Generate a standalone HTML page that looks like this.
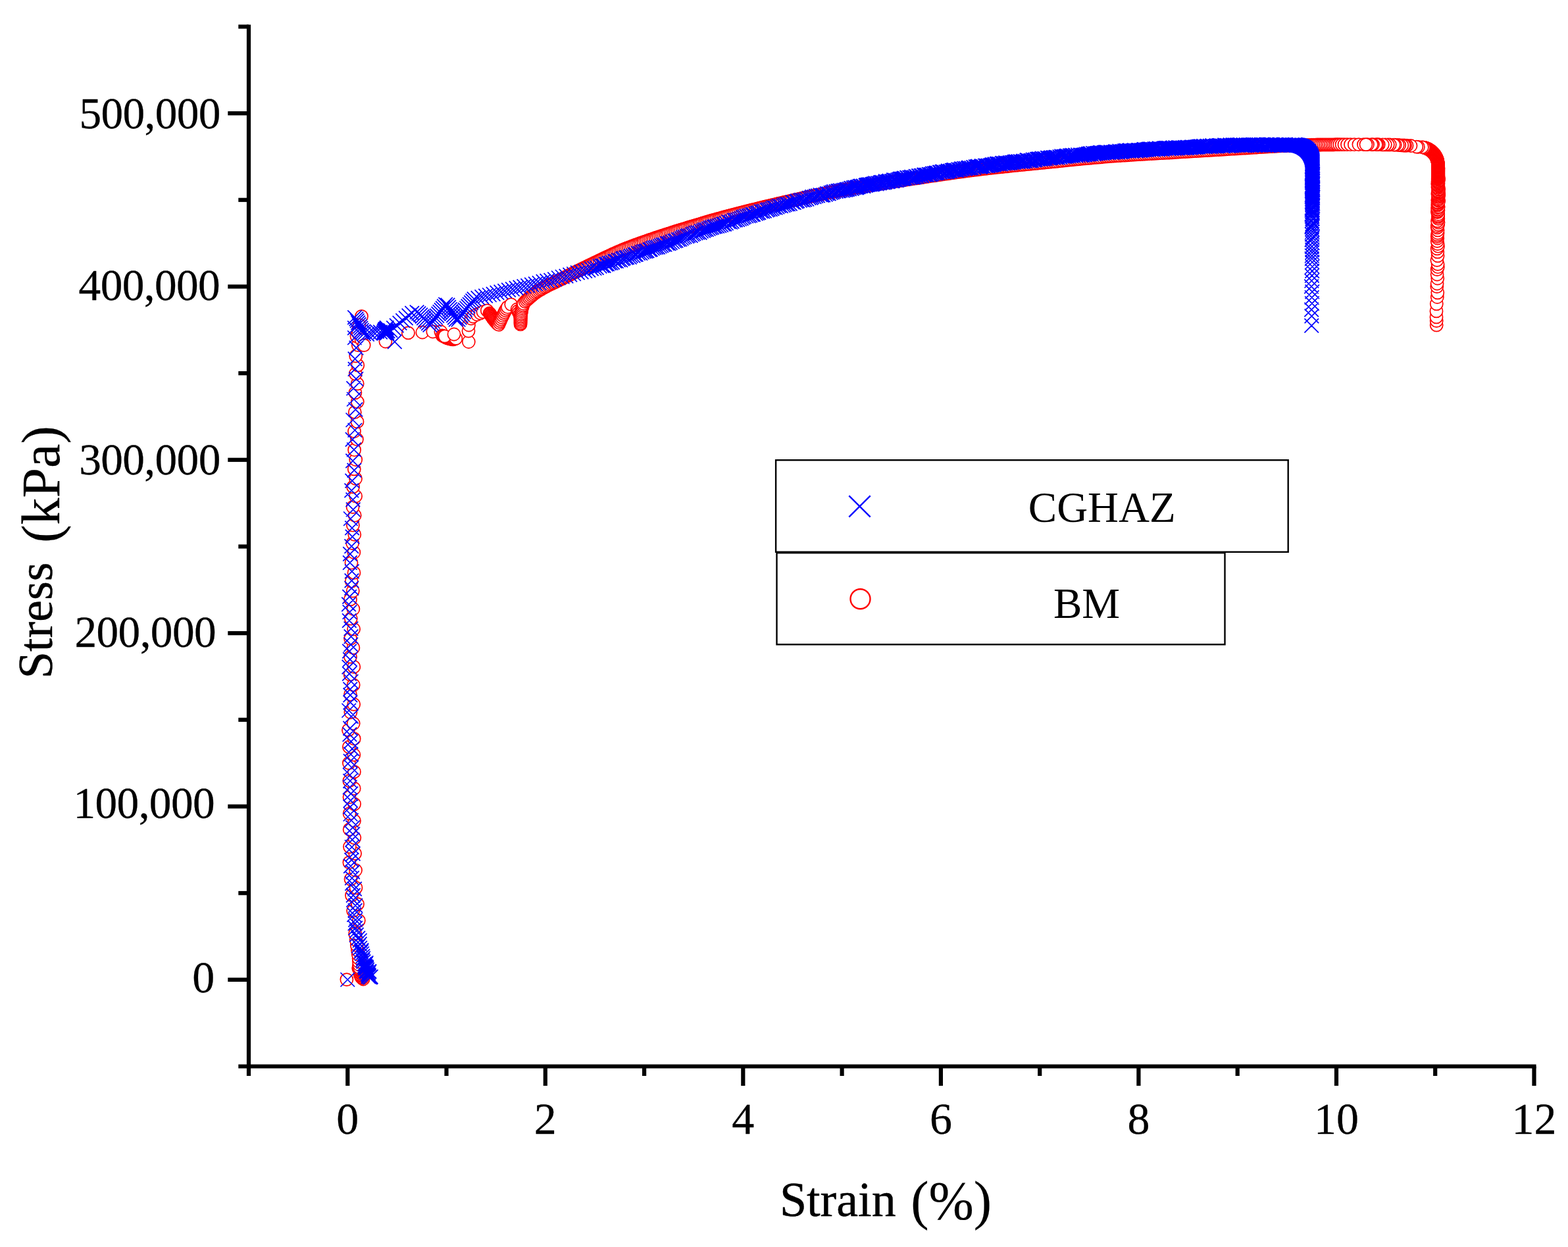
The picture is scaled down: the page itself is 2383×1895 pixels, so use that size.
<!DOCTYPE html>
<html lang="en"><head><meta charset="utf-8"><title>Stress-strain curves</title>
<style>html,body{margin:0;padding:0;background:#fff}body{width:2383px;height:1895px;overflow:hidden}svg{display:block}text{font-family:"Liberation Serif","Times New Roman",Times,serif;fill:#000;stroke:#000;stroke-linejoin:round}.a{stroke-width:.45px}.b{stroke-width:.2px}.c{stroke-width:.3px}.d{stroke:none}</style></head><body>
<svg width="2383" height="1895" viewBox="0 0 2383 1895">
<rect width="2383" height="1895" fill="#fff"/>
<g fill="#fff" stroke="#f00" stroke-width="1.7">
<circle cx="526.9" cy="1488.6" r="9.55"/><circle cx="552" cy="1488" r="9.55"/><circle cx="550.6" cy="1486.6" r="9.55"/><circle cx="549" cy="1485.1" r="9.55"/><circle cx="548.6" cy="1483.7" r="9.55"/><circle cx="549.3" cy="1482.3" r="9.55"/><circle cx="547.1" cy="1480.8" r="9.55"/><circle cx="547.8" cy="1479.2" r="9.55"/><circle cx="547.3" cy="1477.7" r="9.55"/><circle cx="548" cy="1476.1" r="9.55"/><circle cx="547.5" cy="1474.5" r="9.55"/><circle cx="545.7" cy="1472.9" r="9.55"/><circle cx="544.7" cy="1471.3" r="9.55"/><circle cx="545.3" cy="1469.7" r="9.55"/><circle cx="545.6" cy="1468.1" r="9.55"/><circle cx="546" cy="1470" r="9.55"/><circle cx="545.7" cy="1466" r="9.55"/><circle cx="545.4" cy="1461.5" r="9.55"/><circle cx="545.1" cy="1456.4" r="9.55"/><circle cx="544.3" cy="1450.6" r="9.55"/><circle cx="543.4" cy="1444.1" r="9.55"/><circle cx="542.3" cy="1436.7" r="9.55"/><circle cx="541.1" cy="1428.4" r="9.55"/><circle cx="539.7" cy="1418.9" r="9.55"/><circle cx="545.3" cy="1398.9" r="9.55"/><circle cx="536.6" cy="1384.1" r="9.55"/><circle cx="543.5" cy="1373.9" r="9.55"/><circle cx="534.5" cy="1360.7" r="9.55"/><circle cx="541" cy="1349.1" r="9.55"/><circle cx="533" cy="1336.1" r="9.55"/><circle cx="540.5" cy="1322.5" r="9.55"/><circle cx="530.9" cy="1310.7" r="9.55"/><circle cx="539.6" cy="1297.1" r="9.55"/><circle cx="531.5" cy="1286.8" r="9.55"/><circle cx="538.8" cy="1273.3" r="9.55"/><circle cx="531.2" cy="1260.4" r="9.55"/><circle cx="538.5" cy="1247.3" r="9.55"/><circle cx="531.1" cy="1236.4" r="9.55"/><circle cx="538.6" cy="1221.8" r="9.55"/><circle cx="531" cy="1211.3" r="9.55"/><circle cx="538.2" cy="1198.2" r="9.55"/><circle cx="530.9" cy="1186.7" r="9.55"/><circle cx="538.4" cy="1172.9" r="9.55"/><circle cx="530.4" cy="1159.6" r="9.55"/><circle cx="537.9" cy="1147" r="9.55"/><circle cx="530.4" cy="1135.1" r="9.55"/><circle cx="538.2" cy="1122.7" r="9.55"/><circle cx="529.5" cy="1109.4" r="9.55"/><circle cx="537.2" cy="1099.5" r="9.55"/><circle cx="532.9" cy="1082.5" r="9.55"/><circle cx="537.7" cy="1070.3" r="9.55"/><circle cx="532.5" cy="1055.4" r="9.55"/><circle cx="537.2" cy="1040.9" r="9.55"/><circle cx="532.1" cy="1025.1" r="9.55"/><circle cx="537.8" cy="1013.3" r="9.55"/><circle cx="532.5" cy="998.1" r="9.55"/><circle cx="536.9" cy="984.4" r="9.55"/><circle cx="532.6" cy="970.6" r="9.55"/><circle cx="537.6" cy="956" r="9.55"/><circle cx="533.3" cy="940" r="9.55"/><circle cx="536.9" cy="925.5" r="9.55"/><circle cx="532.5" cy="910.9" r="9.55"/><circle cx="536.3" cy="898" r="9.55"/><circle cx="534.3" cy="883.4" r="9.55"/><circle cx="538" cy="870.4" r="9.55"/><circle cx="534" cy="855.2" r="9.55"/><circle cx="537.9" cy="839.5" r="9.55"/><circle cx="535.7" cy="825.6" r="9.55"/><circle cx="538.8" cy="812.4" r="9.55"/><circle cx="536.4" cy="798.2" r="9.55"/><circle cx="539.2" cy="783.2" r="9.55"/><circle cx="536.1" cy="770.5" r="9.55"/><circle cx="540.6" cy="754" r="9.55"/><circle cx="536.6" cy="739.8" r="9.55"/><circle cx="540.5" cy="727.4" r="9.55"/><circle cx="538.3" cy="712.9" r="9.55"/><circle cx="540.7" cy="698.5" r="9.55"/><circle cx="538.6" cy="683.7" r="9.55"/><circle cx="542.4" cy="667.7" r="9.55"/><circle cx="538.5" cy="655.5" r="9.55"/><circle cx="543" cy="640.9" r="9.55"/><circle cx="539.3" cy="626.4" r="9.55"/><circle cx="543.3" cy="610.6" r="9.55"/><circle cx="539.9" cy="596.8" r="9.55"/><circle cx="543.2" cy="583.1" r="9.55"/><circle cx="540.3" cy="568.1" r="9.55"/><circle cx="543.8" cy="555.1" r="9.55"/><circle cx="540.7" cy="541" r="9.55"/><circle cx="544.3" cy="524.6" r="9.55"/><circle cx="542" cy="510.9" r="9.55"/><circle cx="545.2" cy="498.5" r="9.55"/><circle cx="549.5" cy="480.7" r="9.55"/><circle cx="546" cy="494" r="9.55"/><circle cx="544.5" cy="507" r="9.55"/><circle cx="549" cy="516" r="9.55"/><circle cx="553.2" cy="524.6" r="9.55"/><circle cx="585.9" cy="519" r="9.55"/><circle cx="620.4" cy="505.9" r="9.55"/><circle cx="641.9" cy="505" r="9.55"/><circle cx="657.8" cy="504" r="9.55"/><circle cx="669.9" cy="504" r="9.55"/><circle cx="672" cy="510" r="9.55"/><circle cx="673.4" cy="510.7" r="9.55"/><circle cx="674.9" cy="511.4" r="9.55"/><circle cx="676.3" cy="512.1" r="9.55"/><circle cx="677.7" cy="512.9" r="9.55"/><circle cx="679.2" cy="513.6" r="9.55"/><circle cx="680.6" cy="514.2" r="9.55"/><circle cx="682.2" cy="514.5" r="9.55"/><circle cx="683.7" cy="514.9" r="9.55"/><circle cx="685.3" cy="515.3" r="9.55"/><circle cx="686.8" cy="515.7" r="9.55"/><circle cx="688.4" cy="515.9" r="9.55"/><circle cx="689.9" cy="515.4" r="9.55"/><circle cx="691.4" cy="514.9" r="9.55"/><circle cx="692.9" cy="514.4" r="9.55"/><circle cx="676" cy="511" r="9.55"/><circle cx="690" cy="508" r="9.55"/><circle cx="712.3" cy="519.5" r="9.55"/><circle cx="712" cy="503" r="9.55"/><circle cx="712.5" cy="494" r="9.55"/><circle cx="716" cy="484" r="9.55"/><circle cx="719" cy="481" r="9.55"/><circle cx="725" cy="478" r="9.55"/><circle cx="730" cy="476" r="9.55"/><circle cx="734" cy="474" r="9.55"/><circle cx="740.3" cy="471.9" r="9.55"/><circle cx="744" cy="476" r="9.55"/><circle cx="744.8" cy="477.2" r="9.55"/><circle cx="745.7" cy="478.5" r="9.55"/><circle cx="746.5" cy="479.7" r="9.55"/><circle cx="747.3" cy="481" r="9.55"/><circle cx="748.2" cy="482.2" r="9.55"/><circle cx="749" cy="483.5" r="9.55"/><circle cx="749.8" cy="484.7" r="9.55"/><circle cx="750.8" cy="485.9" r="9.55"/><circle cx="751.7" cy="487" r="9.55"/><circle cx="752.7" cy="488.2" r="9.55"/><circle cx="753.7" cy="489.3" r="9.55"/><circle cx="754.7" cy="490.5" r="9.55"/><circle cx="755.7" cy="491.6" r="9.55"/><circle cx="756.8" cy="492.6" r="9.55"/><circle cx="758" cy="493.4" r="9.55"/><circle cx="759.2" cy="490.6" r="9.55"/><circle cx="760.3" cy="487.9" r="9.55"/><circle cx="761.5" cy="485.1" r="9.55"/><circle cx="762.8" cy="482.4" r="9.55"/><circle cx="764.1" cy="479.7" r="9.55"/><circle cx="765.5" cy="477" r="9.55"/><circle cx="766.8" cy="474.4" r="9.55"/><circle cx="768.2" cy="471.7" r="9.55"/><circle cx="769.9" cy="469.2" r="9.55"/><circle cx="771.5" cy="466.7" r="9.55"/><circle cx="776.7" cy="462.6" r="9.55"/><circle cx="786" cy="470" r="9.55"/><circle cx="787.3" cy="472.7" r="9.55"/><circle cx="788.6" cy="475.4" r="9.55"/><circle cx="789.8" cy="478.1" r="9.55"/><circle cx="790.7" cy="481" r="9.55"/><circle cx="790.8" cy="483.9" r="9.55"/><circle cx="790.9" cy="486.9" r="9.55"/><circle cx="790.9" cy="489.9" r="9.55"/><circle cx="791" cy="492.9" r="9.55"/><circle cx="791.1" cy="490.9" r="9.55"/><circle cx="791.2" cy="488.4" r="9.55"/><circle cx="791.3" cy="485.9" r="9.55"/><circle cx="791.4" cy="483.4" r="9.55"/><circle cx="791.5" cy="480.9" r="9.55"/><circle cx="791.7" cy="478.4" r="9.55"/><circle cx="792.1" cy="476" r="9.55"/><circle cx="792.5" cy="473.5" r="9.55"/><circle cx="792.8" cy="471" r="9.55"/><circle cx="793.4" cy="468.6" r="9.55"/><circle cx="794.1" cy="466.2" r="9.55"/><circle cx="794.9" cy="463.8" r="9.55"/><circle cx="795.6" cy="461.4" r="9.55"/><circle cx="798.1" cy="458.3" r="9.55"/><circle cx="800.1" cy="456.5" r="9.55"/><circle cx="802.1" cy="454.7" r="9.55"/><circle cx="804.2" cy="452.9" r="9.55"/><circle cx="806.2" cy="451.2" r="9.55"/><circle cx="808.3" cy="449.4" r="9.55"/><circle cx="810.3" cy="447.7" r="9.55"/><circle cx="812.5" cy="446" r="9.55"/><circle cx="814.6" cy="444.4" r="9.55"/><circle cx="816.9" cy="442.9" r="9.55"/><circle cx="819.2" cy="441.5" r="9.55"/><circle cx="821.5" cy="440.1" r="9.55"/><circle cx="823.8" cy="438.8" r="9.55"/><circle cx="826.2" cy="437.4" r="9.55"/><circle cx="828.6" cy="436.2" r="9.55"/><circle cx="831" cy="434.9" r="9.55"/><circle cx="833.4" cy="433.7" r="9.55"/><circle cx="835.8" cy="432.5" r="9.55"/><circle cx="838.2" cy="431.4" r="9.55"/><circle cx="840.7" cy="430.2" r="9.55"/><circle cx="843.1" cy="429" r="9.55"/><circle cx="845.5" cy="427.9" r="9.55"/><circle cx="848" cy="426.7" r="9.55"/><circle cx="850.4" cy="425.5" r="9.55"/><circle cx="852.8" cy="424.3" r="9.55"/><circle cx="855.2" cy="423.1" r="9.55"/><circle cx="857.6" cy="421.9" r="9.55"/><circle cx="860" cy="420.6" r="9.55"/><circle cx="862.5" cy="419.4" r="9.55"/><circle cx="864.9" cy="418.2" r="9.55"/><circle cx="867.3" cy="417" r="9.55"/><circle cx="869.7" cy="415.8" r="9.55"/><circle cx="872.1" cy="414.6" r="9.55"/><circle cx="874.5" cy="413.4" r="9.55"/><circle cx="877" cy="412.2" r="9.55"/><circle cx="879.4" cy="411" r="9.55"/><circle cx="881.8" cy="409.8" r="9.55"/><circle cx="884.2" cy="408.6" r="9.55"/><circle cx="886.6" cy="407.4" r="9.55"/><circle cx="889.1" cy="406.3" r="9.55"/><circle cx="891.5" cy="405.1" r="9.55"/><circle cx="893.9" cy="403.9" r="9.55"/><circle cx="896.4" cy="402.7" r="9.55"/><circle cx="898.8" cy="401.6" r="9.55"/><circle cx="901.2" cy="400.4" r="9.55"/><circle cx="903.7" cy="399.2" r="9.55"/><circle cx="906.1" cy="398.1" r="9.55"/><circle cx="908.5" cy="396.9" r="9.55"/><circle cx="911" cy="395.7" r="9.55"/><circle cx="913.4" cy="394.6" r="9.55"/><circle cx="915.8" cy="393.4" r="9.55"/><circle cx="918.3" cy="392.2" r="9.55"/><circle cx="920.7" cy="391.1" r="9.55"/><circle cx="923.2" cy="389.9" r="9.55"/><circle cx="925.6" cy="388.8" r="9.55"/><circle cx="928.1" cy="387.6" r="9.55"/><circle cx="930.5" cy="386.5" r="9.55"/><circle cx="933" cy="385.4" r="9.55"/><circle cx="935.4" cy="384.3" r="9.55"/><circle cx="937.9" cy="383.2" r="9.55"/><circle cx="940.4" cy="382.1" r="9.55"/><circle cx="942.9" cy="381.1" r="9.55"/><circle cx="945.4" cy="380" r="9.55"/><circle cx="947.9" cy="379" r="9.55"/><circle cx="950.4" cy="378" r="9.55"/><circle cx="952.9" cy="377" r="9.55"/><circle cx="955.4" cy="376.1" r="9.55"/><circle cx="957.9" cy="375.1" r="9.55"/><circle cx="960.4" cy="374.1" r="9.55"/><circle cx="963" cy="373.2" r="9.55"/><circle cx="965.5" cy="372.2" r="9.55"/><circle cx="968" cy="371.3" r="9.55"/><circle cx="970.6" cy="370.4" r="9.55"/><circle cx="973.1" cy="369.5" r="9.55"/><circle cx="975.7" cy="368.6" r="9.55"/><circle cx="978.2" cy="367.7" r="9.55"/><circle cx="980.8" cy="366.8" r="9.55"/><circle cx="983.3" cy="365.9" r="9.55"/><circle cx="985.9" cy="365" r="9.55"/><circle cx="988.4" cy="364.1" r="9.55"/><circle cx="991" cy="363.3" r="9.55"/><circle cx="993.5" cy="362.4" r="9.55"/><circle cx="996.1" cy="361.5" r="9.55"/><circle cx="998.6" cy="360.7" r="9.55"/><circle cx="1001.2" cy="359.8" r="9.55"/><circle cx="1003.8" cy="358.9" r="9.55"/><circle cx="1006.3" cy="358.1" r="9.55"/><circle cx="1008.9" cy="357.3" r="9.55"/><circle cx="1011.5" cy="356.4" r="9.55"/><circle cx="1014" cy="355.6" r="9.55"/><circle cx="1016.6" cy="354.8" r="9.55"/><circle cx="1019.2" cy="354" r="9.55"/><circle cx="1021.7" cy="353.2" r="9.55"/><circle cx="1024.3" cy="352.3" r="9.55"/><circle cx="1026.9" cy="351.5" r="9.55"/><circle cx="1029.5" cy="350.7" r="9.55"/><circle cx="1032.1" cy="349.9" r="9.55"/><circle cx="1034.6" cy="349.2" r="9.55"/><circle cx="1037.2" cy="348.4" r="9.55"/><circle cx="1039.8" cy="347.6" r="9.55"/><circle cx="1042.4" cy="346.8" r="9.55"/><circle cx="1045" cy="346" r="9.55"/><circle cx="1047.6" cy="345.2" r="9.55"/><circle cx="1050.1" cy="344.5" r="9.55"/><circle cx="1052.7" cy="343.7" r="9.55"/><circle cx="1055.3" cy="342.9" r="9.55"/><circle cx="1057.9" cy="342.1" r="9.55"/><circle cx="1060.5" cy="341.3" r="9.55"/><circle cx="1063.1" cy="340.6" r="9.55"/><circle cx="1065.7" cy="339.8" r="9.55"/><circle cx="1068.2" cy="339" r="9.55"/><circle cx="1070.8" cy="338.3" r="9.55"/><circle cx="1073.4" cy="337.5" r="9.55"/><circle cx="1076" cy="336.7" r="9.55"/><circle cx="1078.6" cy="336" r="9.55"/><circle cx="1081.2" cy="335.2" r="9.55"/><circle cx="1083.8" cy="334.5" r="9.55"/><circle cx="1086.4" cy="333.8" r="9.55"/><circle cx="1089" cy="333" r="9.55"/><circle cx="1091.6" cy="332.3" r="9.55"/><circle cx="1094.2" cy="331.6" r="9.55"/><circle cx="1096.8" cy="330.9" r="9.55"/><circle cx="1099.4" cy="330.2" r="9.55"/><circle cx="1102" cy="329.5" r="9.55"/><circle cx="1104.9" cy="328.7" r="9.55"/><circle cx="1107.8" cy="327.9" r="9.55"/><circle cx="1110.7" cy="327.2" r="9.55"/><circle cx="1113.6" cy="326.4" r="9.55"/><circle cx="1116.5" cy="325.6" r="9.55"/><circle cx="1119.4" cy="324.9" r="9.55"/><circle cx="1122.3" cy="324.1" r="9.55"/><circle cx="1125.2" cy="323.4" r="9.55"/><circle cx="1128.1" cy="322.6" r="9.55"/><circle cx="1131" cy="321.9" r="9.55"/><circle cx="1134" cy="321.2" r="9.55"/><circle cx="1136.9" cy="320.4" r="9.55"/><circle cx="1139.8" cy="319.7" r="9.55"/><circle cx="1142.7" cy="319" r="9.55"/><circle cx="1145.6" cy="318.3" r="9.55"/><circle cx="1148.5" cy="317.6" r="9.55"/><circle cx="1151.4" cy="316.8" r="9.55"/><circle cx="1154.3" cy="316.1" r="9.55"/><circle cx="1157.3" cy="315.4" r="9.55"/><circle cx="1160.2" cy="314.7" r="9.55"/><circle cx="1163.1" cy="314" r="9.55"/><circle cx="1166" cy="313.3" r="9.55"/><circle cx="1168.9" cy="312.6" r="9.55"/><circle cx="1171.9" cy="312" r="9.55"/><circle cx="1174.8" cy="311.3" r="9.55"/><circle cx="1177.7" cy="310.6" r="9.55"/><circle cx="1180.6" cy="309.9" r="9.55"/><circle cx="1183.5" cy="309.2" r="9.55"/><circle cx="1186.5" cy="308.6" r="9.55"/><circle cx="1189.4" cy="307.9" r="9.55"/><circle cx="1192.3" cy="307.2" r="9.55"/><circle cx="1195.2" cy="306.6" r="9.55"/><circle cx="1198.2" cy="305.9" r="9.55"/><circle cx="1201.1" cy="305.3" r="9.55"/><circle cx="1204" cy="304.6" r="9.55"/><circle cx="1207" cy="304" r="9.55"/><circle cx="1209.9" cy="303.3" r="9.55"/><circle cx="1212.8" cy="302.7" r="9.55"/><circle cx="1215.7" cy="302" r="9.55"/><circle cx="1218.7" cy="301.4" r="9.55"/><circle cx="1221.6" cy="300.7" r="9.55"/><circle cx="1224.5" cy="300.1" r="9.55"/><circle cx="1227.5" cy="299.5" r="9.55"/><circle cx="1230.4" cy="298.8" r="9.55"/><circle cx="1233.3" cy="298.2" r="9.55"/><circle cx="1236.3" cy="297.6" r="9.55"/><circle cx="1239.2" cy="297" r="9.55"/><circle cx="1242.1" cy="296.3" r="9.55"/><circle cx="1245.1" cy="295.7" r="9.55"/><circle cx="1248" cy="295.1" r="9.55"/><circle cx="1251" cy="294.5" r="9.55"/><circle cx="1253.9" cy="293.9" r="9.55"/><circle cx="1256.8" cy="293.3" r="9.55"/><circle cx="1259.8" cy="292.7" r="9.55"/><circle cx="1262.7" cy="292.1" r="9.55"/><circle cx="1265.7" cy="291.6" r="9.55"/><circle cx="1268.6" cy="291" r="9.55"/><circle cx="1271.5" cy="290.4" r="9.55"/><circle cx="1274.5" cy="289.9" r="9.55"/><circle cx="1277.4" cy="289.3" r="9.55"/><circle cx="1280.4" cy="288.8" r="9.55"/><circle cx="1283.3" cy="288.2" r="9.55"/><circle cx="1286.3" cy="287.7" r="9.55"/><circle cx="1289.2" cy="287.1" r="9.55"/><circle cx="1292.2" cy="286.6" r="9.55"/><circle cx="1295.2" cy="286.1" r="9.55"/><circle cx="1298.1" cy="285.6" r="9.55"/><circle cx="1301.1" cy="285.1" r="9.55"/><circle cx="1304" cy="284.6" r="9.55"/><circle cx="1307" cy="284.1" r="9.55"/><circle cx="1309.9" cy="283.6" r="9.55"/><circle cx="1312.9" cy="283.1" r="9.55"/><circle cx="1315.9" cy="282.6" r="9.55"/><circle cx="1318.8" cy="282.1" r="9.55"/><circle cx="1321.8" cy="281.6" r="9.55"/><circle cx="1324.7" cy="281.1" r="9.55"/><circle cx="1327.7" cy="280.7" r="9.55"/><circle cx="1330.7" cy="280.2" r="9.55"/><circle cx="1333.6" cy="279.7" r="9.55"/><circle cx="1336.6" cy="279.3" r="9.55"/><circle cx="1339.6" cy="278.8" r="9.55"/><circle cx="1342.5" cy="278.3" r="9.55"/><circle cx="1345.5" cy="277.9" r="9.55"/><circle cx="1348.5" cy="277.4" r="9.55"/><circle cx="1351.4" cy="277" r="9.55"/><circle cx="1354.4" cy="276.5" r="9.55"/><circle cx="1357.4" cy="276.1" r="9.55"/><circle cx="1360.3" cy="275.6" r="9.55"/><circle cx="1363.3" cy="275.2" r="9.55"/><circle cx="1366.3" cy="274.7" r="9.55"/><circle cx="1369.2" cy="274.3" r="9.55"/><circle cx="1372.2" cy="273.9" r="9.55"/><circle cx="1375.2" cy="273.4" r="9.55"/><circle cx="1378.1" cy="273" r="9.55"/><circle cx="1381.1" cy="272.5" r="9.55"/><circle cx="1384.1" cy="272.1" r="9.55"/><circle cx="1387" cy="271.6" r="9.55"/><circle cx="1390" cy="271.2" r="9.55"/><circle cx="1393" cy="270.8" r="9.55"/><circle cx="1395.9" cy="270.3" r="9.55"/><circle cx="1398.9" cy="269.9" r="9.55"/><circle cx="1401.9" cy="269.4" r="9.55"/><circle cx="1404.8" cy="269" r="9.55"/><circle cx="1407.8" cy="268.6" r="9.55"/><circle cx="1410.8" cy="268.1" r="9.55"/><circle cx="1413.7" cy="267.7" r="9.55"/><circle cx="1416.7" cy="267.2" r="9.55"/><circle cx="1419.7" cy="266.8" r="9.55"/><circle cx="1422.6" cy="266.4" r="9.55"/><circle cx="1425.6" cy="265.9" r="9.55"/><circle cx="1428.6" cy="265.5" r="9.55"/><circle cx="1431.5" cy="265.1" r="9.55"/><circle cx="1434.5" cy="264.6" r="9.55"/><circle cx="1437.5" cy="264.2" r="9.55"/><circle cx="1440.4" cy="263.8" r="9.55"/><circle cx="1443.4" cy="263.3" r="9.55"/><circle cx="1446.4" cy="262.9" r="9.55"/><circle cx="1449.4" cy="262.5" r="9.55"/><circle cx="1452.3" cy="262.1" r="9.55"/><circle cx="1455.3" cy="261.7" r="9.55"/><circle cx="1458.3" cy="261.3" r="9.55"/><circle cx="1461.2" cy="260.9" r="9.55"/><circle cx="1464.2" cy="260.5" r="9.55"/><circle cx="1467.2" cy="260.1" r="9.55"/><circle cx="1470.2" cy="259.7" r="9.55"/><circle cx="1473.1" cy="259.3" r="9.55"/><circle cx="1476.1" cy="258.9" r="9.55"/><circle cx="1479.1" cy="258.5" r="9.55"/><circle cx="1482.1" cy="258.2" r="9.55"/><circle cx="1485" cy="257.8" r="9.55"/><circle cx="1488" cy="257.4" r="9.55"/><circle cx="1491" cy="257.1" r="9.55"/><circle cx="1494" cy="256.7" r="9.55"/><circle cx="1497" cy="256.4" r="9.55"/><circle cx="1499.9" cy="256" r="9.55"/><circle cx="1502.9" cy="255.7" r="9.55"/><circle cx="1506.3" cy="255.3" r="9.55"/><circle cx="1509.7" cy="254.9" r="9.55"/><circle cx="1513.1" cy="254.6" r="9.55"/><circle cx="1516.4" cy="254.2" r="9.55"/><circle cx="1519.8" cy="253.8" r="9.55"/><circle cx="1523.2" cy="253.5" r="9.55"/><circle cx="1526.6" cy="253.1" r="9.55"/><circle cx="1530" cy="252.8" r="9.55"/><circle cx="1533.3" cy="252.4" r="9.55"/><circle cx="1536.7" cy="252.1" r="9.55"/><circle cx="1540.1" cy="251.7" r="9.55"/><circle cx="1543.5" cy="251.4" r="9.55"/><circle cx="1546.9" cy="251" r="9.55"/><circle cx="1550.3" cy="250.7" r="9.55"/><circle cx="1553.6" cy="250.3" r="9.55"/><circle cx="1557" cy="250" r="9.55"/><circle cx="1560.4" cy="249.7" r="9.55"/><circle cx="1563.8" cy="249.3" r="9.55"/><circle cx="1567.2" cy="249" r="9.55"/><circle cx="1570.6" cy="248.7" r="9.55"/><circle cx="1573.9" cy="248.3" r="9.55"/><circle cx="1577.3" cy="248" r="9.55"/><circle cx="1580.7" cy="247.7" r="9.55"/><circle cx="1584.1" cy="247.3" r="9.55"/><circle cx="1587.5" cy="247" r="9.55"/><circle cx="1590.9" cy="246.7" r="9.55"/><circle cx="1594.2" cy="246.3" r="9.55"/><circle cx="1597.6" cy="246" r="9.55"/><circle cx="1601" cy="245.6" r="9.55"/><circle cx="1604.4" cy="245.3" r="9.55"/><circle cx="1607.8" cy="245" r="9.55"/><circle cx="1611.2" cy="244.6" r="9.55"/><circle cx="1614.5" cy="244.3" r="9.55"/><circle cx="1617.9" cy="243.9" r="9.55"/><circle cx="1621.3" cy="243.6" r="9.55"/><circle cx="1624.7" cy="243.2" r="9.55"/><circle cx="1628.1" cy="242.9" r="9.55"/><circle cx="1631.5" cy="242.6" r="9.55"/><circle cx="1634.8" cy="242.2" r="9.55"/><circle cx="1638.2" cy="241.9" r="9.55"/><circle cx="1641.6" cy="241.6" r="9.55"/><circle cx="1645" cy="241.2" r="9.55"/><circle cx="1648.4" cy="240.9" r="9.55"/><circle cx="1651.8" cy="240.6" r="9.55"/><circle cx="1655.1" cy="240.3" r="9.55"/><circle cx="1658.5" cy="240" r="9.55"/><circle cx="1661.9" cy="239.7" r="9.55"/><circle cx="1665.3" cy="239.4" r="9.55"/><circle cx="1668.7" cy="239.1" r="9.55"/><circle cx="1672.1" cy="238.8" r="9.55"/><circle cx="1675.5" cy="238.5" r="9.55"/><circle cx="1678.9" cy="238.2" r="9.55"/><circle cx="1682.2" cy="237.9" r="9.55"/><circle cx="1685.6" cy="237.7" r="9.55"/><circle cx="1689" cy="237.4" r="9.55"/><circle cx="1692.4" cy="237.2" r="9.55"/><circle cx="1695.8" cy="236.9" r="9.55"/><circle cx="1699.2" cy="236.7" r="9.55"/><circle cx="1702.6" cy="236.5" r="9.55"/><circle cx="1706" cy="236.2" r="9.55"/><circle cx="1709.4" cy="236" r="9.55"/><circle cx="1712.8" cy="235.8" r="9.55"/><circle cx="1716.2" cy="235.6" r="9.55"/><circle cx="1719.6" cy="235.4" r="9.55"/><circle cx="1722.9" cy="235.1" r="9.55"/><circle cx="1726.3" cy="234.9" r="9.55"/><circle cx="1729.7" cy="234.7" r="9.55"/><circle cx="1733.1" cy="234.5" r="9.55"/><circle cx="1736.5" cy="234.3" r="9.55"/><circle cx="1739.9" cy="234.1" r="9.55"/><circle cx="1743.3" cy="233.9" r="9.55"/><circle cx="1746.7" cy="233.7" r="9.55"/><circle cx="1750.1" cy="233.5" r="9.55"/><circle cx="1753.5" cy="233.3" r="9.55"/><circle cx="1756.9" cy="233.1" r="9.55"/><circle cx="1760.3" cy="232.9" r="9.55"/><circle cx="1763.7" cy="232.7" r="9.55"/><circle cx="1767.1" cy="232.5" r="9.55"/><circle cx="1770.5" cy="232.4" r="9.55"/><circle cx="1773.9" cy="232.2" r="9.55"/><circle cx="1777.3" cy="232" r="9.55"/><circle cx="1780.6" cy="231.8" r="9.55"/><circle cx="1784" cy="231.6" r="9.55"/><circle cx="1787.4" cy="231.4" r="9.55"/><circle cx="1790.8" cy="231.2" r="9.55"/><circle cx="1794.2" cy="230.9" r="9.55"/><circle cx="1797.6" cy="230.7" r="9.55"/><circle cx="1801" cy="230.5" r="9.55"/><circle cx="1804.4" cy="230.3" r="9.55"/><circle cx="1807.8" cy="230.1" r="9.55"/><circle cx="1811.2" cy="229.9" r="9.55"/><circle cx="1814.6" cy="229.7" r="9.55"/><circle cx="1818" cy="229.5" r="9.55"/><circle cx="1821.4" cy="229.3" r="9.55"/><circle cx="1824.8" cy="229.1" r="9.55"/><circle cx="1828.2" cy="228.9" r="9.55"/><circle cx="1831.6" cy="228.7" r="9.55"/><circle cx="1834.9" cy="228.5" r="9.55"/><circle cx="1838.3" cy="228.3" r="9.55"/><circle cx="1841.7" cy="228.1" r="9.55"/><circle cx="1845.1" cy="227.9" r="9.55"/><circle cx="1848.5" cy="227.7" r="9.55"/><circle cx="1851.9" cy="227.5" r="9.55"/><circle cx="1855.3" cy="227.3" r="9.55"/><circle cx="1858.7" cy="227.1" r="9.55"/><circle cx="1862.1" cy="226.9" r="9.55"/><circle cx="1865.5" cy="226.7" r="9.55"/><circle cx="1868.9" cy="226.4" r="9.55"/><circle cx="1872.3" cy="226.2" r="9.55"/><circle cx="1875.7" cy="226" r="9.55"/><circle cx="1879.1" cy="225.8" r="9.55"/><circle cx="1882.5" cy="225.6" r="9.55"/><circle cx="1885.9" cy="225.4" r="9.55"/><circle cx="1889.3" cy="225.2" r="9.55"/><circle cx="1892.6" cy="225" r="9.55"/><circle cx="1896" cy="224.8" r="9.55"/><circle cx="1899.4" cy="224.6" r="9.55"/><circle cx="1902.8" cy="224.4" r="9.55"/><circle cx="1906.2" cy="224.2" r="9.55"/><circle cx="1909.6" cy="224" r="9.55"/><circle cx="1913" cy="223.7" r="9.55"/><circle cx="1916.4" cy="223.5" r="9.55"/><circle cx="1919.8" cy="223.3" r="9.55"/><circle cx="1923.2" cy="223.1" r="9.55"/><circle cx="1926.6" cy="222.9" r="9.55"/><circle cx="1930" cy="222.7" r="9.55"/><circle cx="1933.4" cy="222.5" r="9.55"/><circle cx="1936.8" cy="222.3" r="9.55"/><circle cx="1940.2" cy="222.1" r="9.55"/><circle cx="1943.5" cy="221.9" r="9.55"/><circle cx="1946.9" cy="221.7" r="9.55"/><circle cx="1950.3" cy="221.6" r="9.55"/><circle cx="1953.7" cy="221.4" r="9.55"/><circle cx="1957.1" cy="221.3" r="9.55"/><circle cx="1960.5" cy="221.2" r="9.55"/><circle cx="1963.9" cy="221.1" r="9.55"/><circle cx="1967.3" cy="221" r="9.55"/><circle cx="1970.7" cy="220.9" r="9.55"/><circle cx="1974.1" cy="220.7" r="9.55"/><circle cx="1977.5" cy="220.6" r="9.55"/><circle cx="1980.9" cy="220.5" r="9.55"/><circle cx="1984.3" cy="220.5" r="9.55"/><circle cx="1987.7" cy="220.4" r="9.55"/><circle cx="1991.1" cy="220.3" r="9.55"/><circle cx="1993.7" cy="220.2" r="9.55"/><circle cx="1996.3" cy="220.2" r="9.55"/><circle cx="1998.9" cy="220.1" r="9.55"/><circle cx="2001.5" cy="220" r="9.55"/><circle cx="2004.1" cy="220" r="9.55"/><circle cx="2006.7" cy="220" r="9.55"/><circle cx="2009.3" cy="219.9" r="9.55"/><circle cx="2011.9" cy="219.9" r="9.55"/><circle cx="2014.5" cy="219.8" r="9.55"/><circle cx="2017.1" cy="219.8" r="9.55"/><circle cx="2019.7" cy="219.8" r="9.55"/><circle cx="2022.3" cy="219.8" r="9.55"/><circle cx="2024.9" cy="219.8" r="9.55"/><circle cx="2027.5" cy="219.8" r="9.55"/><circle cx="2030.1" cy="219.7" r="9.55"/><circle cx="2032.7" cy="219.7" r="9.55"/><circle cx="2035.7" cy="219.7" r="9.55"/><circle cx="2039.1" cy="219.7" r="9.55"/><circle cx="2043" cy="219.7" r="9.55"/><circle cx="2047.5" cy="219.7" r="9.55"/><circle cx="2052.5" cy="219.7" r="9.55"/><circle cx="2058.3" cy="219.7" r="9.55"/><circle cx="2064.9" cy="219.6" r="9.55"/><circle cx="2072.4" cy="219.6" r="9.55"/>
<circle cx="2183.2" cy="494.1" r="9.55"/><circle cx="2183.2" cy="487.6" r="9.55"/><circle cx="2183" cy="481.9" r="9.55"/><circle cx="2183" cy="472.9" r="9.55"/><circle cx="2183.3" cy="461.8" r="9.55"/><circle cx="2184.3" cy="451.5" r="9.55"/><circle cx="2184.8" cy="444.8" r="9.55"/><circle cx="2183.8" cy="435.6" r="9.55"/><circle cx="2184.1" cy="431" r="9.55"/><circle cx="2184.8" cy="423" r="9.55"/><circle cx="2184.1" cy="417" r="9.55"/><circle cx="2184.1" cy="409.6" r="9.55"/><circle cx="2185.3" cy="405.7" r="9.55"/><circle cx="2185.1" cy="401.3" r="9.55"/><circle cx="2183.9" cy="395.3" r="9.55"/><circle cx="2185.1" cy="388.8" r="9.55"/><circle cx="2184.8" cy="382.9" r="9.55"/><circle cx="2184.1" cy="377.8" r="9.55"/><circle cx="2185.5" cy="374.2" r="9.55"/><circle cx="2185" cy="370.6" r="9.55"/><circle cx="2184.2" cy="366.4" r="9.55"/><circle cx="2184.8" cy="362" r="9.55"/><circle cx="2184.3" cy="359.3" r="9.55"/><circle cx="2184.6" cy="356.8" r="9.55"/><circle cx="2185.1" cy="354" r="9.55"/><circle cx="2185.1" cy="349.9" r="9.55"/><circle cx="2184.4" cy="345.9" r="9.55"/><circle cx="2184.3" cy="343.5" r="9.55"/><circle cx="2185.7" cy="341.3" r="9.55"/><circle cx="2186" cy="338.1" r="9.55"/><circle cx="2184.5" cy="335.9" r="9.55"/><circle cx="2185.8" cy="332.3" r="9.55"/><circle cx="2185.4" cy="329.8" r="9.55"/><circle cx="2185.6" cy="327.9" r="9.55"/><circle cx="2185.7" cy="325.5" r="9.55"/><circle cx="2184.5" cy="322.6" r="9.55"/><circle cx="2184.9" cy="321.3" r="9.55"/><circle cx="2185.9" cy="319.7" r="9.55"/><circle cx="2184.8" cy="317.9" r="9.55"/><circle cx="2184.7" cy="315.5" r="9.55"/><circle cx="2186.2" cy="314.3" r="9.55"/><circle cx="2185.1" cy="311.8" r="9.55"/><circle cx="2184.9" cy="310.4" r="9.55"/><circle cx="2185.1" cy="308.5" r="9.55"/><circle cx="2185.1" cy="307.4" r="9.55"/><circle cx="2186.7" cy="305.5" r="9.55"/><circle cx="2184.8" cy="304.2" r="9.55"/><circle cx="2185.8" cy="303.3" r="9.55"/><circle cx="2185.8" cy="301.5" r="9.55"/><circle cx="2185.8" cy="299.7" r="9.55"/><circle cx="2185.8" cy="297.9" r="9.55"/><circle cx="2186.7" cy="296.7" r="9.55"/><circle cx="2186.5" cy="295.7" r="9.55"/><circle cx="2184.9" cy="294.7" r="9.55"/><circle cx="2186.3" cy="293.6" r="9.55"/><circle cx="2185.6" cy="292.3" r="9.55"/><circle cx="2186.2" cy="291.3" r="9.55"/><circle cx="2185.4" cy="289.9" r="9.55"/><circle cx="2186.5" cy="288.1" r="9.55"/><circle cx="2186.4" cy="287.3" r="9.55"/><circle cx="2186.2" cy="285.5" r="9.55"/><circle cx="2185" cy="284.6" r="9.55"/><circle cx="2185.8" cy="282.9" r="9.55"/><circle cx="2185.7" cy="281.8" r="9.55"/><circle cx="2185.8" cy="280.5" r="9.55"/><circle cx="2184.8" cy="279.5" r="9.55"/><circle cx="2186" cy="278.4" r="9.55"/><circle cx="2185.5" cy="276.8" r="9.55"/><circle cx="2185.1" cy="275.7" r="9.55"/><circle cx="2185.5" cy="274.8" r="9.55"/><circle cx="2186.5" cy="273.5" r="9.55"/><circle cx="2185.2" cy="272.5" r="9.55"/><circle cx="2185.3" cy="271.8" r="9.55"/><circle cx="2186.5" cy="271.1" r="9.55"/><circle cx="2185.8" cy="270.4" r="9.55"/><circle cx="2185.8" cy="269.7" r="9.55"/><circle cx="2185.8" cy="269" r="9.55"/><circle cx="2185.8" cy="268.3" r="9.55"/><circle cx="2185.8" cy="267.6" r="9.55"/><circle cx="2185.8" cy="266.9" r="9.55"/><circle cx="2185.8" cy="266.2" r="9.55"/><circle cx="2185.8" cy="265.5" r="9.55"/><circle cx="2185.8" cy="264.8" r="9.55"/><circle cx="2185.8" cy="264.1" r="9.55"/><circle cx="2185.8" cy="263.4" r="9.55"/><circle cx="2185.8" cy="262.7" r="9.55"/><circle cx="2185.8" cy="262" r="9.55"/><circle cx="2185.8" cy="261.3" r="9.55"/><circle cx="2185.8" cy="260.6" r="9.55"/><circle cx="2185.8" cy="259.9" r="9.55"/><circle cx="2185.8" cy="259.2" r="9.55"/><circle cx="2185.8" cy="258.5" r="9.55"/><circle cx="2185.8" cy="257.8" r="9.55"/><circle cx="2185.8" cy="257.1" r="9.55"/><circle cx="2185.8" cy="256.4" r="9.55"/><circle cx="2185.8" cy="255.7" r="9.55"/><circle cx="2185.8" cy="255" r="9.55"/><circle cx="2185.7" cy="254.3" r="9.55"/><circle cx="2185.7" cy="253.6" r="9.55"/><circle cx="2185.6" cy="252.9" r="9.55"/><circle cx="2185.6" cy="252.2" r="9.55"/><circle cx="2185.5" cy="251.5" r="9.55"/><circle cx="2185.5" cy="250.8" r="9.55"/><circle cx="2185.5" cy="250.1" r="9.55"/><circle cx="2185.4" cy="249.4" r="9.55"/><circle cx="2185.4" cy="248.7" r="9.55"/><circle cx="2185.3" cy="248" r="9.55"/><circle cx="2185.2" cy="247.3" r="9.55"/><circle cx="2185.1" cy="246.6" r="9.55"/><circle cx="2185" cy="245.9" r="9.55"/><circle cx="2184.9" cy="245.2" r="9.55"/><circle cx="2184.7" cy="244.6" r="9.55"/><circle cx="2184.6" cy="243.9" r="9.55"/><circle cx="2184.4" cy="243.2" r="9.55"/><circle cx="2184.2" cy="242.5" r="9.55"/><circle cx="2183.9" cy="241.9" r="9.55"/><circle cx="2183.7" cy="241.2" r="9.55"/><circle cx="2183.4" cy="240.6" r="9.55"/><circle cx="2183.2" cy="239.9" r="9.55"/><circle cx="2182.9" cy="239.3" r="9.55"/><circle cx="2182.6" cy="238.7" r="9.55"/><circle cx="2182.2" cy="238" r="9.55"/><circle cx="2181.9" cy="237.4" r="9.55"/><circle cx="2181.6" cy="236.8" r="9.55"/><circle cx="2181.2" cy="236.2" r="9.55"/><circle cx="2180.8" cy="235.6" r="9.55"/><circle cx="2180.4" cy="235.1" r="9.55"/><circle cx="2180" cy="234.5" r="9.55"/><circle cx="2179.6" cy="233.9" r="9.55"/><circle cx="2179.1" cy="233.4" r="9.55"/><circle cx="2178.7" cy="232.9" r="9.55"/><circle cx="2178.2" cy="232.4" r="9.55"/><circle cx="2177.7" cy="231.8" r="9.55"/><circle cx="2177.2" cy="231.3" r="9.55"/><circle cx="2176.7" cy="230.9" r="9.55"/><circle cx="2176.2" cy="230.4" r="9.55"/><circle cx="2175.7" cy="229.9" r="9.55"/><circle cx="2175.1" cy="229.5" r="9.55"/><circle cx="2174.6" cy="229.1" r="9.55"/><circle cx="2174" cy="228.7" r="9.55"/><circle cx="2173.4" cy="228.3" r="9.55"/><circle cx="2172.8" cy="227.9" r="9.55"/><circle cx="2172.3" cy="227.5" r="9.55"/><circle cx="2171.7" cy="227.1" r="9.55"/><circle cx="2171" cy="226.8" r="9.55"/><circle cx="2170.4" cy="226.5" r="9.55"/><circle cx="2169.8" cy="226.2" r="9.55"/><circle cx="2169.2" cy="225.9" r="9.55"/><circle cx="2168.5" cy="225.6" r="9.55"/><circle cx="2167.9" cy="225.3" r="9.55"/><circle cx="2167.2" cy="225.1" r="9.55"/><circle cx="2166.5" cy="224.9" r="9.55"/><circle cx="2165.9" cy="224.7" r="9.55"/><circle cx="2165.2" cy="224.5" r="9.55"/><circle cx="2164.5" cy="224.3" r="9.55"/><circle cx="2163.8" cy="224.1" r="9.55"/><circle cx="2161.4" cy="223.7" r="9.55"/><circle cx="2155.4" cy="223.4" r="9.55"/><circle cx="2152.9" cy="223.1" r="9.55"/><circle cx="2144" cy="221.5" r="9.55"/><circle cx="2138.1" cy="221.2" r="9.55"/><circle cx="2135.6" cy="221.1" r="9.55"/><circle cx="2133.8" cy="221" r="9.55"/><circle cx="2130.8" cy="220.9" r="9.55"/><circle cx="2126.8" cy="220.6" r="9.55"/><circle cx="2124.3" cy="220.4" r="9.55"/><circle cx="2120.3" cy="220.2" r="9.55"/><circle cx="2118.3" cy="220.1" r="9.55"/><circle cx="2112.3" cy="219.8" r="9.55"/><circle cx="2109.3" cy="219.8" r="9.55"/><circle cx="2105.3" cy="219.8" r="9.55"/><circle cx="2101.3" cy="219.8" r="9.55"/><circle cx="2095.3" cy="219.7" r="9.55"/><circle cx="2093.3" cy="219.7" r="9.55"/><circle cx="2091.5" cy="219.7" r="9.55"/><circle cx="2086.5" cy="219.6" r="9.55"/><circle cx="2084.5" cy="219.6" r="9.55"/><circle cx="2078.5" cy="219.6" r="9.55"/>
<circle cx="2076" cy="219.6" r="9.55"/>
</g>
<path d="M517.5 1478l21.5 21.5m0 -21.5l-21.5 21.5M552 1474.7l21.5 21.5m0 -21.5l-21.5 21.5M553 1473.5l21.5 21.5m0 -21.5l-21.5 21.5M552.1 1474l21.5 21.5m0 -21.5l-21.5 21.5M549.5 1473.7l21.5 21.5m0 -21.5l-21.5 21.5M549 1472.6l21.5 21.5m0 -21.5l-21.5 21.5M548.7 1470.2l21.5 21.5m0 -21.5l-21.5 21.5M549.9 1472.6l21.5 21.5m0 -21.5l-21.5 21.5M548.1 1469.1l21.5 21.5m0 -21.5l-21.5 21.5M549.9 1471.4l21.5 21.5m0 -21.5l-21.5 21.5M549.3 1468.1l21.5 21.5m0 -21.5l-21.5 21.5M550.7 1465.7l21.5 21.5m0 -21.5l-21.5 21.5M549.8 1465.9l21.5 21.5m0 -21.5l-21.5 21.5M546.3 1464.3l21.5 21.5m0 -21.5l-21.5 21.5M546.6 1466.5l21.5 21.5m0 -21.5l-21.5 21.5M545.7 1464.6l21.5 21.5m0 -21.5l-21.5 21.5M547.3 1462.8l21.5 21.5m0 -21.5l-21.5 21.5M546.5 1460.6l21.5 21.5m0 -21.5l-21.5 21.5M544 1460.3l21.5 21.5m0 -21.5l-21.5 21.5M546.4 1460.4l21.5 21.5m0 -21.5l-21.5 21.5M544.5 1460.2l21.5 21.5m0 -21.5l-21.5 21.5M544.8 1458l21.5 21.5m0 -21.5l-21.5 21.5M546.1 1458.9l21.5 21.5m0 -21.5l-21.5 21.5M543.4 1457.4l21.5 21.5m0 -21.5l-21.5 21.5M544.3 1457.8l21.5 21.5m0 -21.5l-21.5 21.5M545 1454.3l21.5 21.5m0 -21.5l-21.5 21.5M545.8 1452.7l21.5 21.5m0 -21.5l-21.5 21.5M543.2 1454l21.5 21.5m0 -21.5l-21.5 21.5M541.7 1450.7l21.5 21.5m0 -21.5l-21.5 21.5M540.5 1448.4l21.5 21.5m0 -21.5l-21.5 21.5M541.3 1445.5l21.5 21.5m0 -21.5l-21.5 21.5M540.6 1442.3l21.5 21.5m0 -21.5l-21.5 21.5M539.4 1438.5l21.5 21.5m0 -21.5l-21.5 21.5M538.2 1435.3l21.5 21.5m0 -21.5l-21.5 21.5M538.7 1433.4l21.5 21.5m0 -21.5l-21.5 21.5M536.4 1429.9l21.5 21.5m0 -21.5l-21.5 21.5M534.1 1427l21.5 21.5m0 -21.5l-21.5 21.5M536 1423.9l21.5 21.5m0 -21.5l-21.5 21.5M536.1 1418.5l21.5 21.5m0 -21.5l-21.5 21.5M533.5 1414.9l21.5 21.5m0 -21.5l-21.5 21.5M531.1 1409.8l21.5 21.5m0 -21.5l-21.5 21.5M530.9 1404l21.5 21.5m0 -21.5l-21.5 21.5M529.4 1399.7l21.5 21.5m0 -21.5l-21.5 21.5M528.8 1392.6l21.5 21.5m0 -21.5l-21.5 21.5M529.4 1387.2l21.5 21.5m0 -21.5l-21.5 21.5M527.4 1379.3l21.5 21.5m0 -21.5l-21.5 21.5M528.9 1372.9l21.5 21.5m0 -21.5l-21.5 21.5M529.4 1365.4l21.5 21.5m0 -21.5l-21.5 21.5M526.4 1356.8l21.5 21.5m0 -21.5l-21.5 21.5M526.1 1349.8l21.5 21.5m0 -21.5l-21.5 21.5M528.2 1340.1l21.5 21.5m0 -21.5l-21.5 21.5M524.4 1331.9l21.5 21.5m0 -21.5l-21.5 21.5M524.2 1323.7l21.5 21.5m0 -21.5l-21.5 21.5M525.3 1314.3l21.5 21.5m0 -21.5l-21.5 21.5M522.2 1305.4l21.5 21.5m0 -21.5l-21.5 21.5M523.5 1296.2l21.5 21.5m0 -21.5l-21.5 21.5M526 1286.6l21.5 21.5m0 -21.5l-21.5 21.5M524 1276.5l21.5 21.5m0 -21.5l-21.5 21.5M524.6 1265.3l21.5 21.5m0 -21.5l-21.5 21.5M525.5 1256.8l21.5 21.5m0 -21.5l-21.5 21.5M525.4 1246.8l21.5 21.5m0 -21.5l-21.5 21.5M523.2 1236l21.5 21.5m0 -21.5l-21.5 21.5M521.8 1226.5l21.5 21.5m0 -21.5l-21.5 21.5M521.5 1215.4l21.5 21.5m0 -21.5l-21.5 21.5M522.1 1205.6l21.5 21.5m0 -21.5l-21.5 21.5M522.6 1195.3l21.5 21.5m0 -21.5l-21.5 21.5M521 1185.5l21.5 21.5m0 -21.5l-21.5 21.5M521.4 1176l21.5 21.5m0 -21.5l-21.5 21.5M521 1167l21.5 21.5m0 -21.5l-21.5 21.5M523.6 1155.5l21.5 21.5m0 -21.5l-21.5 21.5M521.9 1145.9l21.5 21.5m0 -21.5l-21.5 21.5M522.4 1135.5l21.5 21.5m0 -21.5l-21.5 21.5M524.5 1127.2l21.5 21.5m0 -21.5l-21.5 21.5M522.7 1116.2l21.5 21.5m0 -21.5l-21.5 21.5M520.7 1105.4l21.5 21.5m0 -21.5l-21.5 21.5M521.4 1095.8l21.5 21.5m0 -21.5l-21.5 21.5M523.1 1078.1l21.5 21.5m0 -21.5l-21.5 21.5M519.5 1069l21.5 21.5m0 -21.5l-21.5 21.5M521.7 1056.7l21.5 21.5m0 -21.5l-21.5 21.5M521.6 1045.7l21.5 21.5m0 -21.5l-21.5 21.5M521.5 1036.6l21.5 21.5m0 -21.5l-21.5 21.5M522.9 1025l21.5 21.5m0 -21.5l-21.5 21.5M520.2 1013.2l21.5 21.5m0 -21.5l-21.5 21.5M519.7 1002.8l21.5 21.5m0 -21.5l-21.5 21.5M521.2 991.4l21.5 21.5m0 -21.5l-21.5 21.5M520.3 978.8l21.5 21.5m0 -21.5l-21.5 21.5M522.5 968.8l21.5 21.5m0 -21.5l-21.5 21.5M522.8 956.7l21.5 21.5m0 -21.5l-21.5 21.5M522.7 944.7l21.5 21.5m0 -21.5l-21.5 21.5M520.1 932.3l21.5 21.5m0 -21.5l-21.5 21.5M520.7 919.3l21.5 21.5m0 -21.5l-21.5 21.5M519.3 907.6l21.5 21.5m0 -21.5l-21.5 21.5M520.4 896.1l21.5 21.5m0 -21.5l-21.5 21.5M523.5 883.2l21.5 21.5m0 -21.5l-21.5 21.5M523.7 871.7l21.5 21.5m0 -21.5l-21.5 21.5M524.1 857.7l21.5 21.5m0 -21.5l-21.5 21.5M521.1 844.4l21.5 21.5m0 -21.5l-21.5 21.5M521.3 831.2l21.5 21.5m0 -21.5l-21.5 21.5M523.5 819.3l21.5 21.5m0 -21.5l-21.5 21.5M524.8 804.9l21.5 21.5m0 -21.5l-21.5 21.5M524.3 791.7l21.5 21.5m0 -21.5l-21.5 21.5M522.1 777.5l21.5 21.5m0 -21.5l-21.5 21.5M526 763.6l21.5 21.5m0 -21.5l-21.5 21.5M525.6 748.6l21.5 21.5m0 -21.5l-21.5 21.5M523.5 734.6l21.5 21.5m0 -21.5l-21.5 21.5M524.5 719.8l21.5 21.5m0 -21.5l-21.5 21.5M527.6 703.9l21.5 21.5m0 -21.5l-21.5 21.5M525.4 689.7l21.5 21.5m0 -21.5l-21.5 21.5M527.2 672.7l21.5 21.5m0 -21.5l-21.5 21.5M524.9 657.2l21.5 21.5m0 -21.5l-21.5 21.5M528.6 643l21.5 21.5m0 -21.5l-21.5 21.5M525.6 627.5l21.5 21.5m0 -21.5l-21.5 21.5M529.6 611.7l21.5 21.5m0 -21.5l-21.5 21.5M527.1 596l21.5 21.5m0 -21.5l-21.5 21.5M526.5 579.4l21.5 21.5m0 -21.5l-21.5 21.5M530.5 565.2l21.5 21.5m0 -21.5l-21.5 21.5M528.9 550.2l21.5 21.5m0 -21.5l-21.5 21.5M528.8 534.6l21.5 21.5m0 -21.5l-21.5 21.5M530.7 517.8l21.5 21.5m0 -21.5l-21.5 21.5M528.2 502.5l21.5 21.5m0 -21.5l-21.5 21.5M528.2 487.6l21.5 21.5m0 -21.5l-21.5 21.5M528.3 471.7l21.5 21.5m0 -21.5l-21.5 21.5M530.7 473.8l21.5 21.5m0 -21.5l-21.5 21.5M532 476.7l21.5 21.5m0 -21.5l-21.5 21.5M533.4 479.6l21.5 21.5m0 -21.5l-21.5 21.5M534.8 482.4l21.5 21.5m0 -21.5l-21.5 21.5M536.3 485.3l21.5 21.5m0 -21.5l-21.5 21.5M537.7 488.1l21.5 21.5m0 -21.5l-21.5 21.5M539.2 491l21.5 21.5m0 -21.5l-21.5 21.5M540.7 493.8l21.5 21.5m0 -21.5l-21.5 21.5M542.1 496.6l21.5 21.5m0 -21.5l-21.5 21.5M547.2 497.2l21.5 21.5m0 -21.5l-21.5 21.5M552.2 495.8l21.5 21.5m0 -21.5l-21.5 21.5M557.2 494.2l21.5 21.5m0 -21.5l-21.5 21.5M562.2 493.2l21.5 21.5m0 -21.5l-21.5 21.5M567.2 493.8l21.5 21.5m0 -21.5l-21.5 21.5M573.4 495.4l21.5 21.5m0 -21.5l-21.5 21.5M575.4 491.4l21.5 21.5m0 -21.5l-21.5 21.5M577.5 495.4l21.5 21.5m0 -21.5l-21.5 21.5M576 495.5l21.5 21.5m0 -21.5l-21.5 21.5M576.8 492l21.5 21.5m0 -21.5l-21.5 21.5M577 487.4l21.5 21.5m0 -21.5l-21.5 21.5M576.2 488.9l21.5 21.5m0 -21.5l-21.5 21.5M572.3 494.4l21.5 21.5m0 -21.5l-21.5 21.5M573.8 491.5l21.5 21.5m0 -21.5l-21.5 21.5M578.8 492.3l21.5 21.5m0 -21.5l-21.5 21.5M575.2 491.9l21.5 21.5m0 -21.5l-21.5 21.5M577.2 494.3l21.5 21.5m0 -21.5l-21.5 21.5M573.2 492.3l21.5 21.5m0 -21.5l-21.5 21.5M574.5 489.7l21.5 21.5m0 -21.5l-21.5 21.5M589.1 508.6l21.5 21.5m0 -21.5l-21.5 21.5M582.6 491.4l21.5 21.5m0 -21.5l-21.5 21.5M587.3 487.7l21.5 21.5m0 -21.5l-21.5 21.5M592 483.9l21.5 21.5m0 -21.5l-21.5 21.5M596.7 480.2l21.5 21.5m0 -21.5l-21.5 21.5M601.4 476.4l21.5 21.5m0 -21.5l-21.5 21.5M606.1 472.7l21.5 21.5m0 -21.5l-21.5 21.5M610.7 468.9l21.5 21.5m0 -21.5l-21.5 21.5M615.4 465.2l21.5 21.5m0 -21.5l-21.5 21.5M622.8 463.6l21.5 21.5m0 -21.5l-21.5 21.5M625.6 465.7l21.5 21.5m0 -21.5l-21.5 21.5M628.4 467.8l21.5 21.5m0 -21.5l-21.5 21.5M631 470.1l21.5 21.5m0 -21.5l-21.5 21.5M633.3 472.7l21.5 21.5m0 -21.5l-21.5 21.5M635.6 475.3l21.5 21.5m0 -21.5l-21.5 21.5M638 478l21.5 21.5m0 -21.5l-21.5 21.5M640.3 480.6l21.5 21.5m0 -21.5l-21.5 21.5M642.6 483.2l21.5 21.5m0 -21.5l-21.5 21.5M645.3 481l21.5 21.5m0 -21.5l-21.5 21.5M647.3 478l21.5 21.5m0 -21.5l-21.5 21.5M649.3 475l21.5 21.5m0 -21.5l-21.5 21.5M651.3 472l21.5 21.5m0 -21.5l-21.5 21.5M653.4 469.1l21.5 21.5m0 -21.5l-21.5 21.5M655.6 466.2l21.5 21.5m0 -21.5l-21.5 21.5M657.7 463.3l21.5 21.5m0 -21.5l-21.5 21.5M659.9 460.4l21.5 21.5m0 -21.5l-21.5 21.5M662.1 457.6l21.5 21.5m0 -21.5l-21.5 21.5M664.2 454.7l21.5 21.5m0 -21.5l-21.5 21.5M666.4 451.8l21.5 21.5m0 -21.5l-21.5 21.5M669.7 452.9l21.5 21.5m0 -21.5l-21.5 21.5M671.4 456.1l21.5 21.5m0 -21.5l-21.5 21.5M673.1 459.3l21.5 21.5m0 -21.5l-21.5 21.5M674.8 462.4l21.5 21.5m0 -21.5l-21.5 21.5M676.6 465.5l21.5 21.5m0 -21.5l-21.5 21.5M678.4 468.7l21.5 21.5m0 -21.5l-21.5 21.5M680.2 471.8l21.5 21.5m0 -21.5l-21.5 21.5M682 474.9l21.5 21.5m0 -21.5l-21.5 21.5M685.8 475l21.5 21.5m0 -21.5l-21.5 21.5M687.8 472l21.5 21.5m0 -21.5l-21.5 21.5M689.9 469.1l21.5 21.5m0 -21.5l-21.5 21.5M691.9 466.1l21.5 21.5m0 -21.5l-21.5 21.5M694 463.1l21.5 21.5m0 -21.5l-21.5 21.5M696.1 460.2l21.5 21.5m0 -21.5l-21.5 21.5M698.4 457.5l21.5 21.5m0 -21.5l-21.5 21.5M700.7 454.7l21.5 21.5m0 -21.5l-21.5 21.5M703 451.9l21.5 21.5m0 -21.5l-21.5 21.5M705.3 449.1l21.5 21.5m0 -21.5l-21.5 21.5M707.6 446.4l21.5 21.5m0 -21.5l-21.5 21.5M709.8 443.6l21.5 21.5m0 -21.5l-21.5 21.5M715.7 442.2l21.5 21.5m0 -21.5l-21.5 21.5M721.5 440.3l21.5 21.5m0 -21.5l-21.5 21.5M727.3 438.8l21.5 21.5m0 -21.5l-21.5 21.5M733.1 437.5l21.5 21.5m0 -21.5l-21.5 21.5M738.9 436.1l21.5 21.5m0 -21.5l-21.5 21.5M744.7 434.2l21.5 21.5m0 -21.5l-21.5 21.5M750.6 432.9l21.5 21.5m0 -21.5l-21.5 21.5M756.4 431.3l21.5 21.5m0 -21.5l-21.5 21.5M762.2 429.9l21.5 21.5m0 -21.5l-21.5 21.5M768.1 428.7l21.5 21.5m0 -21.5l-21.5 21.5M773.9 427.1l21.5 21.5m0 -21.5l-21.5 21.5M779.7 425.8l21.5 21.5m0 -21.5l-21.5 21.5M785.6 424.3l21.5 21.5m0 -21.5l-21.5 21.5M791.4 423.4l21.5 21.5m0 -21.5l-21.5 21.5M797.2 421.8l21.5 21.5m0 -21.5l-21.5 21.5M803.1 420.6l21.5 21.5m0 -21.5l-21.5 21.5M808.9 419.3l21.5 21.5m0 -21.5l-21.5 21.5M814.8 417.2l21.5 21.5m0 -21.5l-21.5 21.5M820.6 416.2l21.5 21.5m0 -21.5l-21.5 21.5M826.5 415.2l21.5 21.5m0 -21.5l-21.5 21.5M832.3 413.7l21.5 21.5m0 -21.5l-21.5 21.5M838.1 411.5l21.5 21.5m0 -21.5l-21.5 21.5M843.9 410l21.5 21.5m0 -21.5l-21.5 21.5M849.7 408.8l21.5 21.5m0 -21.5l-21.5 21.5M855.5 406.9l21.5 21.5m0 -21.5l-21.5 21.5M861.3 405.5l21.5 21.5m0 -21.5l-21.5 21.5M867.1 403.7l21.5 21.5m0 -21.5l-21.5 21.5M872.9 402.7l21.5 21.5m0 -21.5l-21.5 21.5M878.4 401.2l21.5 21.5m0 -21.5l-21.5 21.5M883.5 399.9l21.5 21.5m0 -21.5l-21.5 21.5M888.1 397.7l21.5 21.5m0 -21.5l-21.5 21.5M892.8 397l21.5 21.5m0 -21.5l-21.5 21.5M896.1 396.2l21.5 21.5m0 -21.5l-21.5 21.5M900.8 393.9l21.5 21.5m0 -21.5l-21.5 21.5M904.2 393.1l21.5 21.5m0 -21.5l-21.5 21.5M906.8 393.1l21.5 21.5m0 -21.5l-21.5 21.5M910.2 390.8l21.5 21.5m0 -21.5l-21.5 21.5M912.4 390.5l21.5 21.5m0 -21.5l-21.5 21.5M915.1 389.1l21.5 21.5m0 -21.5l-21.5 21.5M917.8 389l21.5 21.5m0 -21.5l-21.5 21.5M920.2 387.8l21.5 21.5m0 -21.5l-21.5 21.5M923.5 386.1l21.5 21.5m0 -21.5l-21.5 21.5M926.1 386.1l21.5 21.5m0 -21.5l-21.5 21.5M929.1 384.3l21.5 21.5m0 -21.5l-21.5 21.5M932.4 384.6l21.5 21.5m0 -21.5l-21.5 21.5M935.1 382.6l21.5 21.5m0 -21.5l-21.5 21.5M937 381.6l21.5 21.5m0 -21.5l-21.5 21.5M940.4 381l21.5 21.5m0 -21.5l-21.5 21.5M942.4 380.3l21.5 21.5m0 -21.5l-21.5 21.5M946.1 380.1l21.5 21.5m0 -21.5l-21.5 21.5M948 378.1l21.5 21.5m0 -21.5l-21.5 21.5M951.6 377.8l21.5 21.5m0 -21.5l-21.5 21.5M954.1 376.1l21.5 21.5m0 -21.5l-21.5 21.5M956 376.1l21.5 21.5m0 -21.5l-21.5 21.5M959.2 374.2l21.5 21.5m0 -21.5l-21.5 21.5M962.6 374.2l21.5 21.5m0 -21.5l-21.5 21.5M965.2 372.4l21.5 21.5m0 -21.5l-21.5 21.5M968 371.4l21.5 21.5m0 -21.5l-21.5 21.5M970.7 371.1l21.5 21.5m0 -21.5l-21.5 21.5M972.8 370.3l21.5 21.5m0 -21.5l-21.5 21.5M976.3 368.9l21.5 21.5m0 -21.5l-21.5 21.5M978.1 368.3l21.5 21.5m0 -21.5l-21.5 21.5M980.9 366.7l21.5 21.5m0 -21.5l-21.5 21.5M983.6 365.7l21.5 21.5m0 -21.5l-21.5 21.5M986.4 365.1l21.5 21.5m0 -21.5l-21.5 21.5M989.2 364.9l21.5 21.5m0 -21.5l-21.5 21.5M991.9 363.5l21.5 21.5m0 -21.5l-21.5 21.5M994.5 362.3l21.5 21.5m0 -21.5l-21.5 21.5M997.1 361.2l21.5 21.5m0 -21.5l-21.5 21.5M999.8 361l21.5 21.5m0 -21.5l-21.5 21.5M1003.2 359.1l21.5 21.5m0 -21.5l-21.5 21.5M1005.8 359.3l21.5 21.5m0 -21.5l-21.5 21.5M1008.1 358.1l21.5 21.5m0 -21.5l-21.5 21.5M1011.2 356.6l21.5 21.5m0 -21.5l-21.5 21.5M1014.4 355.5l21.5 21.5m0 -21.5l-21.5 21.5M1016.7 354.9l21.5 21.5m0 -21.5l-21.5 21.5M1020 353.4l21.5 21.5m0 -21.5l-21.5 21.5M1022.6 353l21.5 21.5m0 -21.5l-21.5 21.5M1025.1 351.5l21.5 21.5m0 -21.5l-21.5 21.5M1027.5 350l21.5 21.5m0 -21.5l-21.5 21.5M1029.9 349l21.5 21.5m0 -21.5l-21.5 21.5M1033.4 348.3l21.5 21.5m0 -21.5l-21.5 21.5M1035.4 347.1l21.5 21.5m0 -21.5l-21.5 21.5M1039 347.4l21.5 21.5m0 -21.5l-21.5 21.5M1041.5 345.5l21.5 21.5m0 -21.5l-21.5 21.5M1043.7 344.5l21.5 21.5m0 -21.5l-21.5 21.5M1046.7 343.4l21.5 21.5m0 -21.5l-21.5 21.5M1049.5 342.6l21.5 21.5m0 -21.5l-21.5 21.5M1052.8 342.8l21.5 21.5m0 -21.5l-21.5 21.5M1055.1 340.7l21.5 21.5m0 -21.5l-21.5 21.5M1058.3 339.8l21.5 21.5m0 -21.5l-21.5 21.5M1060.3 338.4l21.5 21.5m0 -21.5l-21.5 21.5M1063.1 338.2l21.5 21.5m0 -21.5l-21.5 21.5M1066 336.8l21.5 21.5m0 -21.5l-21.5 21.5M1068.7 335.6l21.5 21.5m0 -21.5l-21.5 21.5M1071.2 334.8l21.5 21.5m0 -21.5l-21.5 21.5M1074.1 333.8l21.5 21.5m0 -21.5l-21.5 21.5M1076.4 333.3l21.5 21.5m0 -21.5l-21.5 21.5M1079.4 332.8l21.5 21.5m0 -21.5l-21.5 21.5M1082.5 332.2l21.5 21.5m0 -21.5l-21.5 21.5M1085.4 331.2l21.5 21.5m0 -21.5l-21.5 21.5M1088.4 329.8l21.5 21.5m0 -21.5l-21.5 21.5M1090.5 329.8l21.5 21.5m0 -21.5l-21.5 21.5M1093.1 328.5l21.5 21.5m0 -21.5l-21.5 21.5M1096.4 326.5l21.5 21.5m0 -21.5l-21.5 21.5M1099.4 327l21.5 21.5m0 -21.5l-21.5 21.5M1101.9 325.8l21.5 21.5m0 -21.5l-21.5 21.5M1104.9 324l21.5 21.5m0 -21.5l-21.5 21.5M1107.3 323.6l21.5 21.5m0 -21.5l-21.5 21.5M1110.4 323.2l21.5 21.5m0 -21.5l-21.5 21.5M1113.2 322l21.5 21.5m0 -21.5l-21.5 21.5M1116 321.2l21.5 21.5m0 -21.5l-21.5 21.5M1118.5 319.6l21.5 21.5m0 -21.5l-21.5 21.5M1120.5 318.5l21.5 21.5m0 -21.5l-21.5 21.5M1123.6 317.6l21.5 21.5m0 -21.5l-21.5 21.5M1127 317.4l21.5 21.5m0 -21.5l-21.5 21.5M1129.5 316.7l21.5 21.5m0 -21.5l-21.5 21.5M1132.3 315.5l21.5 21.5m0 -21.5l-21.5 21.5M1134.3 315.2l21.5 21.5m0 -21.5l-21.5 21.5M1137.9 313.8l21.5 21.5m0 -21.5l-21.5 21.5M1140.4 313.2l21.5 21.5m0 -21.5l-21.5 21.5M1142.6 312.4l21.5 21.5m0 -21.5l-21.5 21.5M1145.6 310.5l21.5 21.5m0 -21.5l-21.5 21.5M1148.4 310.7l21.5 21.5m0 -21.5l-21.5 21.5M1151.1 309.8l21.5 21.5m0 -21.5l-21.5 21.5M1154.8 308.6l21.5 21.5m0 -21.5l-21.5 21.5M1156.9 307.7l21.5 21.5m0 -21.5l-21.5 21.5M1160 307.3l21.5 21.5m0 -21.5l-21.5 21.5M1162.7 306.3l21.5 21.5m0 -21.5l-21.5 21.5M1164.8 304.7l21.5 21.5m0 -21.5l-21.5 21.5M1167.8 304.8l21.5 21.5m0 -21.5l-21.5 21.5M1170.7 303.7l21.5 21.5m0 -21.5l-21.5 21.5M1173.1 302.1l21.5 21.5m0 -21.5l-21.5 21.5M1176.2 302.3l21.5 21.5m0 -21.5l-21.5 21.5M1179.5 301.5l21.5 21.5m0 -21.5l-21.5 21.5M1181.8 300.4l21.5 21.5m0 -21.5l-21.5 21.5M1184.8 299.6l21.5 21.5m0 -21.5l-21.5 21.5M1187.2 299.5l21.5 21.5m0 -21.5l-21.5 21.5M1190.1 298.9l21.5 21.5m0 -21.5l-21.5 21.5M1193.7 296.6l21.5 21.5m0 -21.5l-21.5 21.5M1196 297.1l21.5 21.5m0 -21.5l-21.5 21.5M1199.4 295.7l21.5 21.5m0 -21.5l-21.5 21.5M1201.3 294.6l21.5 21.5m0 -21.5l-21.5 21.5M1205 293.8l21.5 21.5m0 -21.5l-21.5 21.5M1207.3 293l21.5 21.5m0 -21.5l-21.5 21.5M1210 293.5l21.5 21.5m0 -21.5l-21.5 21.5M1212.4 292.6l21.5 21.5m0 -21.5l-21.5 21.5M1215.6 291.9l21.5 21.5m0 -21.5l-21.5 21.5M1218.7 290.1l21.5 21.5m0 -21.5l-21.5 21.5M1221.7 289.8l21.5 21.5m0 -21.5l-21.5 21.5M1223.5 288.3l21.5 21.5m0 -21.5l-21.5 21.5M1226.8 288.3l21.5 21.5m0 -21.5l-21.5 21.5M1229.4 287.1l21.5 21.5m0 -21.5l-21.5 21.5M1232.3 286.7l21.5 21.5m0 -21.5l-21.5 21.5M1235.7 285.5l21.5 21.5m0 -21.5l-21.5 21.5M1238.4 286.1l21.5 21.5m0 -21.5l-21.5 21.5M1240.5 285.6l21.5 21.5m0 -21.5l-21.5 21.5M1244 284.8l21.5 21.5m0 -21.5l-21.5 21.5M1246.2 283.3l21.5 21.5m0 -21.5l-21.5 21.5M1249 283.7l21.5 21.5m0 -21.5l-21.5 21.5M1251.9 282.1l21.5 21.5m0 -21.5l-21.5 21.5M1254.3 281.3l21.5 21.5m0 -21.5l-21.5 21.5M1256.4 280.4l21.5 21.5m0 -21.5l-21.5 21.5M1259.9 280.1l21.5 21.5m0 -21.5l-21.5 21.5M1262.5 279.5l21.5 21.5m0 -21.5l-21.5 21.5M1264.1 279.4l21.5 21.5m0 -21.5l-21.5 21.5M1266.4 278.6l21.5 21.5m0 -21.5l-21.5 21.5M1269.7 278.9l21.5 21.5m0 -21.5l-21.5 21.5M1271.8 278l21.5 21.5m0 -21.5l-21.5 21.5M1274.2 278l21.5 21.5m0 -21.5l-21.5 21.5M1276 277.2l21.5 21.5m0 -21.5l-21.5 21.5M1277.6 276.8l21.5 21.5m0 -21.5l-21.5 21.5M1280.2 276.3l21.5 21.5m0 -21.5l-21.5 21.5M1282.6 275.2l21.5 21.5m0 -21.5l-21.5 21.5M1283.9 275.8l21.5 21.5m0 -21.5l-21.5 21.5M1286.1 274.6l21.5 21.5m0 -21.5l-21.5 21.5M1288.3 273.9l21.5 21.5m0 -21.5l-21.5 21.5M1290.8 274.6l21.5 21.5m0 -21.5l-21.5 21.5M1292.2 273.7l21.5 21.5m0 -21.5l-21.5 21.5M1294.2 273.1l21.5 21.5m0 -21.5l-21.5 21.5M1296.2 272.1l21.5 21.5m0 -21.5l-21.5 21.5M1297.9 271.8l21.5 21.5m0 -21.5l-21.5 21.5M1300.8 271.9l21.5 21.5m0 -21.5l-21.5 21.5M1301.9 272.2l21.5 21.5m0 -21.5l-21.5 21.5M1304.8 271.1l21.5 21.5m0 -21.5l-21.5 21.5M1305.8 270.3l21.5 21.5m0 -21.5l-21.5 21.5M1307.7 270.1l21.5 21.5m0 -21.5l-21.5 21.5M1309.6 269.6l21.5 21.5m0 -21.5l-21.5 21.5M1311.8 269.7l21.5 21.5m0 -21.5l-21.5 21.5M1314.5 269.7l21.5 21.5m0 -21.5l-21.5 21.5M1315.9 268.8l21.5 21.5m0 -21.5l-21.5 21.5M1318 268.3l21.5 21.5m0 -21.5l-21.5 21.5M1319.8 267.5l21.5 21.5m0 -21.5l-21.5 21.5M1321.6 268.6l21.5 21.5m0 -21.5l-21.5 21.5M1323.4 267.5l21.5 21.5m0 -21.5l-21.5 21.5M1326 267.7l21.5 21.5m0 -21.5l-21.5 21.5M1327.5 266.4l21.5 21.5m0 -21.5l-21.5 21.5M1329.5 266.2l21.5 21.5m0 -21.5l-21.5 21.5M1331.7 266.8l21.5 21.5m0 -21.5l-21.5 21.5M1334.1 266.3l21.5 21.5m0 -21.5l-21.5 21.5M1335.1 264.6l21.5 21.5m0 -21.5l-21.5 21.5M1337.9 265.6l21.5 21.5m0 -21.5l-21.5 21.5M1339.6 264.8l21.5 21.5m0 -21.5l-21.5 21.5M1341 264.1l21.5 21.5m0 -21.5l-21.5 21.5M1344.1 264.5l21.5 21.5m0 -21.5l-21.5 21.5M1346 264.4l21.5 21.5m0 -21.5l-21.5 21.5M1347.2 262.6l21.5 21.5m0 -21.5l-21.5 21.5M1349.1 262.9l21.5 21.5m0 -21.5l-21.5 21.5M1351.7 263.3l21.5 21.5m0 -21.5l-21.5 21.5M1353.7 262.5l21.5 21.5m0 -21.5l-21.5 21.5M1355.7 261.8l21.5 21.5m0 -21.5l-21.5 21.5M1357.4 260.8l21.5 21.5m0 -21.5l-21.5 21.5M1359.7 260.8l21.5 21.5m0 -21.5l-21.5 21.5M1361.8 261.1l21.5 21.5m0 -21.5l-21.5 21.5M1363 259.9l21.5 21.5m0 -21.5l-21.5 21.5M1365 260.4l21.5 21.5m0 -21.5l-21.5 21.5M1367.5 259.2l21.5 21.5m0 -21.5l-21.5 21.5M1368.7 259.6l21.5 21.5m0 -21.5l-21.5 21.5M1371.3 259l21.5 21.5m0 -21.5l-21.5 21.5M1372.8 259l21.5 21.5m0 -21.5l-21.5 21.5M1374.5 258.2l21.5 21.5m0 -21.5l-21.5 21.5M1377 258.9l21.5 21.5m0 -21.5l-21.5 21.5M1379.2 258.5l21.5 21.5m0 -21.5l-21.5 21.5M1381 257.1l21.5 21.5m0 -21.5l-21.5 21.5M1382.7 257.9l21.5 21.5m0 -21.5l-21.5 21.5M1385.2 256.5l21.5 21.5m0 -21.5l-21.5 21.5M1386.4 256.5l21.5 21.5m0 -21.5l-21.5 21.5M1389.1 256.1l21.5 21.5m0 -21.5l-21.5 21.5M1390.6 256.1l21.5 21.5m0 -21.5l-21.5 21.5M1393.4 255.1l21.5 21.5m0 -21.5l-21.5 21.5M1394.3 254.9l21.5 21.5m0 -21.5l-21.5 21.5M1396.7 255.2l21.5 21.5m0 -21.5l-21.5 21.5M1398.4 255l21.5 21.5m0 -21.5l-21.5 21.5M1401 254.2l21.5 21.5m0 -21.5l-21.5 21.5M1402.4 254.6l21.5 21.5m0 -21.5l-21.5 21.5M1404.5 254.1l21.5 21.5m0 -21.5l-21.5 21.5M1406.3 252.8l21.5 21.5m0 -21.5l-21.5 21.5M1409 252.6l21.5 21.5m0 -21.5l-21.5 21.5M1411.2 252.6l21.5 21.5m0 -21.5l-21.5 21.5M1412.2 251.8l21.5 21.5m0 -21.5l-21.5 21.5M1414.5 252.2l21.5 21.5m0 -21.5l-21.5 21.5M1417.1 251l21.5 21.5m0 -21.5l-21.5 21.5M1418.4 250.8l21.5 21.5m0 -21.5l-21.5 21.5M1421 250.4l21.5 21.5m0 -21.5l-21.5 21.5M1421.9 249.9l21.5 21.5m0 -21.5l-21.5 21.5M1424.3 250.9l21.5 21.5m0 -21.5l-21.5 21.5M1426.9 250.4l21.5 21.5m0 -21.5l-21.5 21.5M1429 250.4l21.5 21.5m0 -21.5l-21.5 21.5M1430.1 248.9l21.5 21.5m0 -21.5l-21.5 21.5M1432.9 249.4l21.5 21.5m0 -21.5l-21.5 21.5M1433.7 249l21.5 21.5m0 -21.5l-21.5 21.5M1436.1 248.2l21.5 21.5m0 -21.5l-21.5 21.5M1438.1 247.6l21.5 21.5m0 -21.5l-21.5 21.5M1439.6 247.4l21.5 21.5m0 -21.5l-21.5 21.5M1442 248.2l21.5 21.5m0 -21.5l-21.5 21.5M1443.7 247.9l21.5 21.5m0 -21.5l-21.5 21.5M1445.8 246.7l21.5 21.5m0 -21.5l-21.5 21.5M1448.5 247.1l21.5 21.5m0 -21.5l-21.5 21.5M1450 245.6l21.5 21.5m0 -21.5l-21.5 21.5M1452.1 245.8l21.5 21.5m0 -21.5l-21.5 21.5M1454.6 245.2l21.5 21.5m0 -21.5l-21.5 21.5M1455.9 246l21.5 21.5m0 -21.5l-21.5 21.5M1457.5 245l21.5 21.5m0 -21.5l-21.5 21.5M1460.4 245.2l21.5 21.5m0 -21.5l-21.5 21.5M1461.4 243.8l21.5 21.5m0 -21.5l-21.5 21.5M1463.4 244.9l21.5 21.5m0 -21.5l-21.5 21.5M1465.7 244.3l21.5 21.5m0 -21.5l-21.5 21.5M1468.4 243.4l21.5 21.5m0 -21.5l-21.5 21.5M1469.6 244.1l21.5 21.5m0 -21.5l-21.5 21.5M1472 242.7l21.5 21.5m0 -21.5l-21.5 21.5M1474.1 242.5l21.5 21.5m0 -21.5l-21.5 21.5M1475.6 241.8l21.5 21.5m0 -21.5l-21.5 21.5M1478.1 243l21.5 21.5m0 -21.5l-21.5 21.5M1480 242.7l21.5 21.5m0 -21.5l-21.5 21.5M1481.2 241.3l21.5 21.5m0 -21.5l-21.5 21.5M1483.7 242.2l21.5 21.5m0 -21.5l-21.5 21.5M1486.3 241l21.5 21.5m0 -21.5l-21.5 21.5M1487.4 240.8l21.5 21.5m0 -21.5l-21.5 21.5M1489.7 241.4l21.5 21.5m0 -21.5l-21.5 21.5M1491.3 240.9l21.5 21.5m0 -21.5l-21.5 21.5M1494 240.7l21.5 21.5m0 -21.5l-21.5 21.5M1496 240.1l21.5 21.5m0 -21.5l-21.5 21.5M1497.4 239.4l21.5 21.5m0 -21.5l-21.5 21.5M1499.5 239.8l21.5 21.5m0 -21.5l-21.5 21.5M1501.1 238.7l21.5 21.5m0 -21.5l-21.5 21.5M1503.9 238.5l21.5 21.5m0 -21.5l-21.5 21.5M1505.1 237.9l21.5 21.5m0 -21.5l-21.5 21.5M1507.6 238.1l21.5 21.5m0 -21.5l-21.5 21.5M1510.1 238.7l21.5 21.5m0 -21.5l-21.5 21.5M1512.1 237.5l21.5 21.5m0 -21.5l-21.5 21.5M1513 237l21.5 21.5m0 -21.5l-21.5 21.5M1515.5 237.7l21.5 21.5m0 -21.5l-21.5 21.5M1517.4 236.7l21.5 21.5m0 -21.5l-21.5 21.5M1519.4 237.1l21.5 21.5m0 -21.5l-21.5 21.5M1521.7 237.1l21.5 21.5m0 -21.5l-21.5 21.5M1523.9 236.7l21.5 21.5m0 -21.5l-21.5 21.5M1525 236.7l21.5 21.5m0 -21.5l-21.5 21.5M1527.2 236l21.5 21.5m0 -21.5l-21.5 21.5M1529.3 236.1l21.5 21.5m0 -21.5l-21.5 21.5M1531 235.1l21.5 21.5m0 -21.5l-21.5 21.5M1533.1 234.7l21.5 21.5m0 -21.5l-21.5 21.5M1535.8 235.1l21.5 21.5m0 -21.5l-21.5 21.5M1537.1 234.6l21.5 21.5m0 -21.5l-21.5 21.5M1539.9 234.5l21.5 21.5m0 -21.5l-21.5 21.5M1541 234.8l21.5 21.5m0 -21.5l-21.5 21.5M1543.5 234.8l21.5 21.5m0 -21.5l-21.5 21.5M1544.8 233.8l21.5 21.5m0 -21.5l-21.5 21.5M1547.7 234.1l21.5 21.5m0 -21.5l-21.5 21.5M1549.8 232.6l21.5 21.5m0 -21.5l-21.5 21.5M1551 232.5l21.5 21.5m0 -21.5l-21.5 21.5M1552.9 233.7l21.5 21.5m0 -21.5l-21.5 21.5M1555.3 233.4l21.5 21.5m0 -21.5l-21.5 21.5M1557.1 233l21.5 21.5m0 -21.5l-21.5 21.5M1559.1 231.8l21.5 21.5m0 -21.5l-21.5 21.5M1561.5 232.7l21.5 21.5m0 -21.5l-21.5 21.5M1562.7 231.9l21.5 21.5m0 -21.5l-21.5 21.5M1565.3 231.1l21.5 21.5m0 -21.5l-21.5 21.5M1567 230.8l21.5 21.5m0 -21.5l-21.5 21.5M1568.8 230.7l21.5 21.5m0 -21.5l-21.5 21.5M1571.3 231.1l21.5 21.5m0 -21.5l-21.5 21.5M1572.8 229.9l21.5 21.5m0 -21.5l-21.5 21.5M1574.9 230.8l21.5 21.5m0 -21.5l-21.5 21.5M1576.7 230l21.5 21.5m0 -21.5l-21.5 21.5M1578.7 230.5l21.5 21.5m0 -21.5l-21.5 21.5M1581.1 229.1l21.5 21.5m0 -21.5l-21.5 21.5M1582.6 229.4l21.5 21.5m0 -21.5l-21.5 21.5M1585.1 229.6l21.5 21.5m0 -21.5l-21.5 21.5M1586.5 228.6l21.5 21.5m0 -21.5l-21.5 21.5M1589.3 228.8l21.5 21.5m0 -21.5l-21.5 21.5M1590.8 228.4l21.5 21.5m0 -21.5l-21.5 21.5M1593.5 228.2l21.5 21.5m0 -21.5l-21.5 21.5M1595.1 228.1l21.5 21.5m0 -21.5l-21.5 21.5M1596.9 228.7l21.5 21.5m0 -21.5l-21.5 21.5M1599.6 227.7l21.5 21.5m0 -21.5l-21.5 21.5M1600.6 228l21.5 21.5m0 -21.5l-21.5 21.5M1602.6 226.7l21.5 21.5m0 -21.5l-21.5 21.5M1605.4 227.1l21.5 21.5m0 -21.5l-21.5 21.5M1607.3 226.9l21.5 21.5m0 -21.5l-21.5 21.5M1609.4 226.8l21.5 21.5m0 -21.5l-21.5 21.5M1610.5 225.9l21.5 21.5m0 -21.5l-21.5 21.5M1613 226.6l21.5 21.5m0 -21.5l-21.5 21.5M1615.4 225.6l21.5 21.5m0 -21.5l-21.5 21.5M1617 225.8l21.5 21.5m0 -21.5l-21.5 21.5M1618.9 225.2l21.5 21.5m0 -21.5l-21.5 21.5M1620.6 225.6l21.5 21.5m0 -21.5l-21.5 21.5M1623.4 224.8l21.5 21.5m0 -21.5l-21.5 21.5M1624.8 225.7l21.5 21.5m0 -21.5l-21.5 21.5M1627.4 224.5l21.5 21.5m0 -21.5l-21.5 21.5M1628.4 225.5l21.5 21.5m0 -21.5l-21.5 21.5M1631.4 224.6l21.5 21.5m0 -21.5l-21.5 21.5M1632.3 225.1l21.5 21.5m0 -21.5l-21.5 21.5M1634.6 224.8l21.5 21.5m0 -21.5l-21.5 21.5M1636.9 224.5l21.5 21.5m0 -21.5l-21.5 21.5M1638.4 224.3l21.5 21.5m0 -21.5l-21.5 21.5M1640.4 223.5l21.5 21.5m0 -21.5l-21.5 21.5M1642.7 224l21.5 21.5m0 -21.5l-21.5 21.5M1643.4 222.9l21.5 21.5m0 -21.5l-21.5 21.5M1645.1 223.2l21.5 21.5m0 -21.5l-21.5 21.5M1646.6 222.4l21.5 21.5m0 -21.5l-21.5 21.5M1647.9 223.3l21.5 21.5m0 -21.5l-21.5 21.5M1650.2 222l21.5 21.5m0 -21.5l-21.5 21.5M1651.3 223l21.5 21.5m0 -21.5l-21.5 21.5M1652.1 223l21.5 21.5m0 -21.5l-21.5 21.5M1653.7 222.5l21.5 21.5m0 -21.5l-21.5 21.5M1655.7 222.4l21.5 21.5m0 -21.5l-21.5 21.5M1657 222l21.5 21.5m0 -21.5l-21.5 21.5M1658.8 221.9l21.5 21.5m0 -21.5l-21.5 21.5M1660.4 221.8l21.5 21.5m0 -21.5l-21.5 21.5M1661.6 220.9l21.5 21.5m0 -21.5l-21.5 21.5M1663.3 221.6l21.5 21.5m0 -21.5l-21.5 21.5M1664.3 221.9l21.5 21.5m0 -21.5l-21.5 21.5M1666.5 221.3l21.5 21.5m0 -21.5l-21.5 21.5M1667.3 221.2l21.5 21.5m0 -21.5l-21.5 21.5M1668.7 220.5l21.5 21.5m0 -21.5l-21.5 21.5M1670.6 220.3l21.5 21.5m0 -21.5l-21.5 21.5M1672.1 220.9l21.5 21.5m0 -21.5l-21.5 21.5M1673.1 220.9l21.5 21.5m0 -21.5l-21.5 21.5M1674.6 221l21.5 21.5m0 -21.5l-21.5 21.5M1677 220.5l21.5 21.5m0 -21.5l-21.5 21.5M1677.6 220.4l21.5 21.5m0 -21.5l-21.5 21.5M1679.5 221l21.5 21.5m0 -21.5l-21.5 21.5M1680.7 220.7l21.5 21.5m0 -21.5l-21.5 21.5M1683.2 220.4l21.5 21.5m0 -21.5l-21.5 21.5M1684.5 219.4l21.5 21.5m0 -21.5l-21.5 21.5M1686.2 219.8l21.5 21.5m0 -21.5l-21.5 21.5M1687.6 220.4l21.5 21.5m0 -21.5l-21.5 21.5M1688.2 220.1l21.5 21.5m0 -21.5l-21.5 21.5M1690.6 218.8l21.5 21.5m0 -21.5l-21.5 21.5M1691.4 219.8l21.5 21.5m0 -21.5l-21.5 21.5M1692.7 219.9l21.5 21.5m0 -21.5l-21.5 21.5M1694.3 219.7l21.5 21.5m0 -21.5l-21.5 21.5M1695.6 219.1l21.5 21.5m0 -21.5l-21.5 21.5M1698.1 218.5l21.5 21.5m0 -21.5l-21.5 21.5M1698.8 218.9l21.5 21.5m0 -21.5l-21.5 21.5M1700.3 218l21.5 21.5m0 -21.5l-21.5 21.5M1701.7 218.1l21.5 21.5m0 -21.5l-21.5 21.5M1704.1 218.8l21.5 21.5m0 -21.5l-21.5 21.5M1705.5 217.9l21.5 21.5m0 -21.5l-21.5 21.5M1706.9 217.7l21.5 21.5m0 -21.5l-21.5 21.5M1708.1 218.5l21.5 21.5m0 -21.5l-21.5 21.5M1709.4 218.7l21.5 21.5m0 -21.5l-21.5 21.5M1711.1 218.2l21.5 21.5m0 -21.5l-21.5 21.5M1713 217.3l21.5 21.5m0 -21.5l-21.5 21.5M1714.6 218l21.5 21.5m0 -21.5l-21.5 21.5M1715.4 218.2l21.5 21.5m0 -21.5l-21.5 21.5M1716.7 218.4l21.5 21.5m0 -21.5l-21.5 21.5M1718.6 217.3l21.5 21.5m0 -21.5l-21.5 21.5M1720.3 217.4l21.5 21.5m0 -21.5l-21.5 21.5M1721.1 217.7l21.5 21.5m0 -21.5l-21.5 21.5M1722.5 217.8l21.5 21.5m0 -21.5l-21.5 21.5M1724.2 217.4l21.5 21.5m0 -21.5l-21.5 21.5M1726.6 217.2l21.5 21.5m0 -21.5l-21.5 21.5M1727.7 216.7l21.5 21.5m0 -21.5l-21.5 21.5M1728.4 216.1l21.5 21.5m0 -21.5l-21.5 21.5M1730.1 217l21.5 21.5m0 -21.5l-21.5 21.5M1731.9 216.7l21.5 21.5m0 -21.5l-21.5 21.5M1734 216l21.5 21.5m0 -21.5l-21.5 21.5M1734.7 216.7l21.5 21.5m0 -21.5l-21.5 21.5M1735.9 215.6l21.5 21.5m0 -21.5l-21.5 21.5M1737.8 215.7l21.5 21.5m0 -21.5l-21.5 21.5M1739.3 215.8l21.5 21.5m0 -21.5l-21.5 21.5M1741.1 216.3l21.5 21.5m0 -21.5l-21.5 21.5M1742.1 216.3l21.5 21.5m0 -21.5l-21.5 21.5M1743.9 215.4l21.5 21.5m0 -21.5l-21.5 21.5M1746 215.5l21.5 21.5m0 -21.5l-21.5 21.5M1746.5 215.1l21.5 21.5m0 -21.5l-21.5 21.5M1748.6 216.3l21.5 21.5m0 -21.5l-21.5 21.5M1750.3 215.5l21.5 21.5m0 -21.5l-21.5 21.5M1751.2 214.7l21.5 21.5m0 -21.5l-21.5 21.5M1753.1 215.5l21.5 21.5m0 -21.5l-21.5 21.5M1754.3 215.6l21.5 21.5m0 -21.5l-21.5 21.5M1755.9 216l21.5 21.5m0 -21.5l-21.5 21.5M1757.7 214.8l21.5 21.5m0 -21.5l-21.5 21.5M1759.4 214.4l21.5 21.5m0 -21.5l-21.5 21.5M1760.5 214.9l21.5 21.5m0 -21.5l-21.5 21.5M1761.6 214.2l21.5 21.5m0 -21.5l-21.5 21.5M1763.8 214.1l21.5 21.5m0 -21.5l-21.5 21.5M1765 215.5l21.5 21.5m0 -21.5l-21.5 21.5M1766 214.2l21.5 21.5m0 -21.5l-21.5 21.5M1768.1 214.6l21.5 21.5m0 -21.5l-21.5 21.5M1769.6 215l21.5 21.5m0 -21.5l-21.5 21.5M1770.5 214.2l21.5 21.5m0 -21.5l-21.5 21.5M1772.2 213.7l21.5 21.5m0 -21.5l-21.5 21.5M1774.4 214.8l21.5 21.5m0 -21.5l-21.5 21.5M1775.7 213.4l21.5 21.5m0 -21.5l-21.5 21.5M1777.3 214.5l21.5 21.5m0 -21.5l-21.5 21.5M1778.4 214.5l21.5 21.5m0 -21.5l-21.5 21.5M1779.9 213.6l21.5 21.5m0 -21.5l-21.5 21.5M1780.9 213.5l21.5 21.5m0 -21.5l-21.5 21.5M1782.4 213.6l21.5 21.5m0 -21.5l-21.5 21.5M1784.7 214.1l21.5 21.5m0 -21.5l-21.5 21.5M1786.3 214l21.5 21.5m0 -21.5l-21.5 21.5M1787.1 213.7l21.5 21.5m0 -21.5l-21.5 21.5M1788.8 214l21.5 21.5m0 -21.5l-21.5 21.5M1790.4 213.1l21.5 21.5m0 -21.5l-21.5 21.5M1792.1 214.1l21.5 21.5m0 -21.5l-21.5 21.5M1793.1 213.9l21.5 21.5m0 -21.5l-21.5 21.5M1794.3 212.8l21.5 21.5m0 -21.5l-21.5 21.5M1796.1 213.5l21.5 21.5m0 -21.5l-21.5 21.5M1798.4 213.4l21.5 21.5m0 -21.5l-21.5 21.5M1799.2 213.6l21.5 21.5m0 -21.5l-21.5 21.5M1800.7 212.5l21.5 21.5m0 -21.5l-21.5 21.5M1802.9 213l21.5 21.5m0 -21.5l-21.5 21.5M1804.1 213l21.5 21.5m0 -21.5l-21.5 21.5M1805.9 212.6l21.5 21.5m0 -21.5l-21.5 21.5M1807.3 212.9l21.5 21.5m0 -21.5l-21.5 21.5M1808.8 212.4l21.5 21.5m0 -21.5l-21.5 21.5M1810.1 212.5l21.5 21.5m0 -21.5l-21.5 21.5M1811.1 211.9l21.5 21.5m0 -21.5l-21.5 21.5M1813 211.6l21.5 21.5m0 -21.5l-21.5 21.5M1814.9 211.6l21.5 21.5m0 -21.5l-21.5 21.5M1815.3 211.5l21.5 21.5m0 -21.5l-21.5 21.5M1817.9 211.8l21.5 21.5m0 -21.5l-21.5 21.5M1818.4 211.2l21.5 21.5m0 -21.5l-21.5 21.5M1819.8 212.2l21.5 21.5m0 -21.5l-21.5 21.5M1822 212.1l21.5 21.5m0 -21.5l-21.5 21.5M1823.6 211l21.5 21.5m0 -21.5l-21.5 21.5M1825 211.4l21.5 21.5m0 -21.5l-21.5 21.5M1826.7 212.1l21.5 21.5m0 -21.5l-21.5 21.5M1828.3 210.8l21.5 21.5m0 -21.5l-21.5 21.5M1829.8 212.1l21.5 21.5m0 -21.5l-21.5 21.5M1831.4 210.7l21.5 21.5m0 -21.5l-21.5 21.5M1832 210.6l21.5 21.5m0 -21.5l-21.5 21.5M1833.3 211.7l21.5 21.5m0 -21.5l-21.5 21.5M1835.7 211.3l21.5 21.5m0 -21.5l-21.5 21.5M1837.2 211.3l21.5 21.5m0 -21.5l-21.5 21.5M1838.1 210.3l21.5 21.5m0 -21.5l-21.5 21.5M1839.3 211.3l21.5 21.5m0 -21.5l-21.5 21.5M1841 210.6l21.5 21.5m0 -21.5l-21.5 21.5M1842.7 210l21.5 21.5m0 -21.5l-21.5 21.5M1844 210.4l21.5 21.5m0 -21.5l-21.5 21.5M1846.1 210.5l21.5 21.5m0 -21.5l-21.5 21.5M1847.1 211.3l21.5 21.5m0 -21.5l-21.5 21.5M1848.8 211.1l21.5 21.5m0 -21.5l-21.5 21.5M1850.5 209.7l21.5 21.5m0 -21.5l-21.5 21.5M1851.7 210.3l21.5 21.5m0 -21.5l-21.5 21.5M1853.6 210.1l21.5 21.5m0 -21.5l-21.5 21.5M1855.1 210.4l21.5 21.5m0 -21.5l-21.5 21.5M1856 210.9l21.5 21.5m0 -21.5l-21.5 21.5M1857.3 210.8l21.5 21.5m0 -21.5l-21.5 21.5M1858.9 209.4l21.5 21.5m0 -21.5l-21.5 21.5M1860.5 210.6l21.5 21.5m0 -21.5l-21.5 21.5M1862.9 209.3l21.5 21.5m0 -21.5l-21.5 21.5M1863.8 210.1l21.5 21.5m0 -21.5l-21.5 21.5M1865.7 209.5l21.5 21.5m0 -21.5l-21.5 21.5M1866.8 209.8l21.5 21.5m0 -21.5l-21.5 21.5M1868.7 209.6l21.5 21.5m0 -21.5l-21.5 21.5M1870.3 209.6l21.5 21.5m0 -21.5l-21.5 21.5M1871 210.2l21.5 21.5m0 -21.5l-21.5 21.5M1872.8 209.3l21.5 21.5m0 -21.5l-21.5 21.5M1874.5 209.2l21.5 21.5m0 -21.5l-21.5 21.5M1876.2 210.2l21.5 21.5m0 -21.5l-21.5 21.5M1877.7 210l21.5 21.5m0 -21.5l-21.5 21.5M1878.6 209.7l21.5 21.5m0 -21.5l-21.5 21.5M1880.2 210.4l21.5 21.5m0 -21.5l-21.5 21.5M1881.3 210.4l21.5 21.5m0 -21.5l-21.5 21.5M1882.7 209.3l21.5 21.5m0 -21.5l-21.5 21.5M1884.5 210.4l21.5 21.5m0 -21.5l-21.5 21.5M1886.3 209.5l21.5 21.5m0 -21.5l-21.5 21.5M1888.3 209.3l21.5 21.5m0 -21.5l-21.5 21.5M1889.3 209.7l21.5 21.5m0 -21.5l-21.5 21.5M1891.1 210.1l21.5 21.5m0 -21.5l-21.5 21.5M1892.5 209.4l21.5 21.5m0 -21.5l-21.5 21.5M1893.6 209.1l21.5 21.5m0 -21.5l-21.5 21.5M1895.7 209.9l21.5 21.5m0 -21.5l-21.5 21.5M1897.1 209.1l21.5 21.5m0 -21.5l-21.5 21.5M1898.2 210l21.5 21.5m0 -21.5l-21.5 21.5M1899.9 209l21.5 21.5m0 -21.5l-21.5 21.5M1901.3 210.2l21.5 21.5m0 -21.5l-21.5 21.5M1902.5 209.1l21.5 21.5m0 -21.5l-21.5 21.5M1904.1 209.9l21.5 21.5m0 -21.5l-21.5 21.5M1906.2 209l21.5 21.5m0 -21.5l-21.5 21.5M1906.9 209.1l21.5 21.5m0 -21.5l-21.5 21.5M1908.6 209.6l21.5 21.5m0 -21.5l-21.5 21.5M1909.9 209.2l21.5 21.5m0 -21.5l-21.5 21.5M1911.4 210.3l21.5 21.5m0 -21.5l-21.5 21.5M1913.6 208.9l21.5 21.5m0 -21.5l-21.5 21.5M1915.4 208.9l21.5 21.5m0 -21.5l-21.5 21.5M1916.2 210.3l21.5 21.5m0 -21.5l-21.5 21.5M1918.2 209.8l21.5 21.5m0 -21.5l-21.5 21.5M1919.2 209l21.5 21.5m0 -21.5l-21.5 21.5M1921 208.8l21.5 21.5m0 -21.5l-21.5 21.5M1922 209.3l21.5 21.5m0 -21.5l-21.5 21.5M1923.3 209.3l21.5 21.5m0 -21.5l-21.5 21.5M1925.7 209.8l21.5 21.5m0 -21.5l-21.5 21.5M1926.8 209.7l21.5 21.5m0 -21.5l-21.5 21.5M1928.3 208.9l21.5 21.5m0 -21.5l-21.5 21.5M1929.9 209.3l21.5 21.5m0 -21.5l-21.5 21.5M1931.6 210.1l21.5 21.5m0 -21.5l-21.5 21.5M1932.7 209.6l21.5 21.5m0 -21.5l-21.5 21.5M1934.6 209.3l21.5 21.5m0 -21.5l-21.5 21.5M1935.5 209.8l21.5 21.5m0 -21.5l-21.5 21.5M1937.8 209.9l21.5 21.5m0 -21.5l-21.5 21.5M1939.1 210.1l21.5 21.5m0 -21.5l-21.5 21.5M1940.5 209.7l21.5 21.5m0 -21.5l-21.5 21.5M1941.8 209.2l21.5 21.5m0 -21.5l-21.5 21.5M1943.5 208.9l21.5 21.5m0 -21.5l-21.5 21.5M1944.7 210l21.5 21.5m0 -21.5l-21.5 21.5M1946.6 209.8l21.5 21.5m0 -21.5l-21.5 21.5M1947.5 209.4l21.5 21.5m0 -21.5l-21.5 21.5M1949.3 209.8l21.5 21.5m0 -21.5l-21.5 21.5M1950.7 209.9l21.5 21.5m0 -21.5l-21.5 21.5M1952.8 209.1l21.5 21.5m0 -21.5l-21.5 21.5M1954 210.1l21.5 21.5m0 -21.5l-21.5 21.5M1955.2 209.6l21.5 21.5m0 -21.5l-21.5 21.5M1957.4 208.9l21.5 21.5m0 -21.5l-21.5 21.5M1957.9 209.7l21.5 21.5m0 -21.5l-21.5 21.5M1958.4 209.7l21.5 21.5m0 -21.5l-21.5 21.5M1959 209.7l21.5 21.5m0 -21.5l-21.5 21.5M1959.7 209.8l21.5 21.5m0 -21.5l-21.5 21.5M1960.3 209.8l21.5 21.5m0 -21.5l-21.5 21.5M1960.9 209.9l21.5 21.5m0 -21.5l-21.5 21.5M1961.5 210l21.5 21.5m0 -21.5l-21.5 21.5M1962.1 210.1l21.5 21.5m0 -21.5l-21.5 21.5M1962.7 210.2l21.5 21.5m0 -21.5l-21.5 21.5M1963.3 210.4l21.5 21.5m0 -21.5l-21.5 21.5M1963.9 210.5l21.5 21.5m0 -21.5l-21.5 21.5M1964.6 210.7l21.5 21.5m0 -21.5l-21.5 21.5M1965.1 210.9l21.5 21.5m0 -21.5l-21.5 21.5M1965.7 211l21.5 21.5m0 -21.5l-21.5 21.5M1966.4 211.3l21.5 21.5m0 -21.5l-21.5 21.5M1966.9 211.5l21.5 21.5m0 -21.5l-21.5 21.5M1967.5 211.7l21.5 21.5m0 -21.5l-21.5 21.5M1968 211.9l21.5 21.5m0 -21.5l-21.5 21.5M1968.6 212.2l21.5 21.5m0 -21.5l-21.5 21.5M1969 212.4l21.5 21.5m0 -21.5l-21.5 21.5M1969.7 212.7l21.5 21.5m0 -21.5l-21.5 21.5M1970.2 213l21.5 21.5m0 -21.5l-21.5 21.5M1970.6 213.3l21.5 21.5m0 -21.5l-21.5 21.5M1971.1 213.5l21.5 21.5m0 -21.5l-21.5 21.5M1971.6 213.8l21.5 21.5m0 -21.5l-21.5 21.5M1972 214.1l21.5 21.5m0 -21.5l-21.5 21.5M1972.4 214.4l21.5 21.5m0 -21.5l-21.5 21.5M1972.9 214.8l21.5 21.5m0 -21.5l-21.5 21.5M1973.4 215.2l21.5 21.5m0 -21.5l-21.5 21.5M1973.9 215.5l21.5 21.5m0 -21.5l-21.5 21.5M1974.3 215.8l21.5 21.5m0 -21.5l-21.5 21.5M1974.7 216.2l21.5 21.5m0 -21.5l-21.5 21.5M1975.2 216.6l21.5 21.5m0 -21.5l-21.5 21.5M1975.7 217.1l21.5 21.5m0 -21.5l-21.5 21.5M1976.1 217.5l21.5 21.5m0 -21.5l-21.5 21.5M1976.5 217.9l21.5 21.5m0 -21.5l-21.5 21.5M1977 218.4l21.5 21.5m0 -21.5l-21.5 21.5M1977.3 218.9l21.5 21.5m0 -21.5l-21.5 21.5M1977.7 219.3l21.5 21.5m0 -21.5l-21.5 21.5M1978 219.6l21.5 21.5m0 -21.5l-21.5 21.5M1978.4 220.2l21.5 21.5m0 -21.5l-21.5 21.5M1978.8 220.7l21.5 21.5m0 -21.5l-21.5 21.5M1979.2 221.2l21.5 21.5m0 -21.5l-21.5 21.5M1979.5 221.7l21.5 21.5m0 -21.5l-21.5 21.5M1979.9 222.2l21.5 21.5m0 -21.5l-21.5 21.5M1980.1 222.7l21.5 21.5m0 -21.5l-21.5 21.5M1980.5 223.3l21.5 21.5m0 -21.5l-21.5 21.5M1980.8 223.8l21.5 21.5m0 -21.5l-21.5 21.5M1981 224.4l21.5 21.5m0 -21.5l-21.5 21.5M1981.3 225l21.5 21.5m0 -21.5l-21.5 21.5M1981.6 225.6l21.5 21.5m0 -21.5l-21.5 21.5M1981.8 226.1l21.5 21.5m0 -21.5l-21.5 21.5M1982 226.7l21.5 21.5m0 -21.5l-21.5 21.5M1982.3 227.2l21.5 21.5m0 -21.5l-21.5 21.5M1982.4 227.7l21.5 21.5m0 -21.5l-21.5 21.5M1982.6 228.4l21.5 21.5m0 -21.5l-21.5 21.5M1982.8 228.9l21.5 21.5m0 -21.5l-21.5 21.5M1983 229.6l21.5 21.5m0 -21.5l-21.5 21.5M1983.1 230.1l21.5 21.5m0 -21.5l-21.5 21.5M1983.2 230.6l21.5 21.5m0 -21.5l-21.5 21.5M1983.4 231.2l21.5 21.5m0 -21.5l-21.5 21.5M1983.5 231.7l21.5 21.5m0 -21.5l-21.5 21.5M1983.5 232.3l21.5 21.5m0 -21.5l-21.5 21.5M1983.6 232.7l21.5 21.5m0 -21.5l-21.5 21.5M1983.7 233.4l21.5 21.5m0 -21.5l-21.5 21.5M1983.7 233.9l21.5 21.5m0 -21.5l-21.5 21.5M1983.8 234.5l21.5 21.5m0 -21.5l-21.5 21.5M1983.8 235l21.5 21.5m0 -21.5l-21.5 21.5M1983.8 235.6l21.5 21.5m0 -21.5l-21.5 21.5M1983.8 236.2l21.5 21.5m0 -21.5l-21.5 21.5M1983.8 236.8l21.5 21.5m0 -21.5l-21.5 21.5M1983.8 237.5l21.5 21.5m0 -21.5l-21.5 21.5M1983.8 238l21.5 21.5m0 -21.5l-21.5 21.5M1983.8 238.7l21.5 21.5m0 -21.5l-21.5 21.5M1983.8 239.4l21.5 21.5m0 -21.5l-21.5 21.5M1983.8 239.9l21.5 21.5m0 -21.5l-21.5 21.5M1983.8 240.6l21.5 21.5m0 -21.5l-21.5 21.5M1983.8 241.3l21.5 21.5m0 -21.5l-21.5 21.5M1983.8 242l21.5 21.5m0 -21.5l-21.5 21.5M1983.8 242.5l21.5 21.5m0 -21.5l-21.5 21.5M1983.8 243.2l21.5 21.5m0 -21.5l-21.5 21.5M1983.8 243.8l21.5 21.5m0 -21.5l-21.5 21.5M1983.8 244.3l21.5 21.5m0 -21.5l-21.5 21.5M1983.8 244.8l21.5 21.5m0 -21.5l-21.5 21.5M1983.8 245.5l21.5 21.5m0 -21.5l-21.5 21.5M1983.8 246.1l21.5 21.5m0 -21.5l-21.5 21.5M1983.8 246.6l21.5 21.5m0 -21.5l-21.5 21.5M1983.8 247.1l21.5 21.5m0 -21.5l-21.5 21.5M1983.8 247.7l21.5 21.5m0 -21.5l-21.5 21.5M1983.8 248.2l21.5 21.5m0 -21.5l-21.5 21.5M1983.8 248.9l21.5 21.5m0 -21.5l-21.5 21.5M1984.1 249.4l21.5 21.5m0 -21.5l-21.5 21.5M1983.8 249.9l21.5 21.5m0 -21.5l-21.5 21.5M1984.2 250.6l21.5 21.5m0 -21.5l-21.5 21.5M1983.3 251.3l21.5 21.5m0 -21.5l-21.5 21.5M1983.4 251.8l21.5 21.5m0 -21.5l-21.5 21.5M1983.2 252.5l21.5 21.5m0 -21.5l-21.5 21.5M1984.2 253.1l21.5 21.5m0 -21.5l-21.5 21.5M1984.4 253.8l21.5 21.5m0 -21.5l-21.5 21.5M1984.1 254.5l21.5 21.5m0 -21.5l-21.5 21.5M1983.7 255.2l21.5 21.5m0 -21.5l-21.5 21.5M1984.3 255.8l21.5 21.5m0 -21.5l-21.5 21.5M1984.3 256.5l21.5 21.5m0 -21.5l-21.5 21.5M1983.9 257l21.5 21.5m0 -21.5l-21.5 21.5M1983.5 257.7l21.5 21.5m0 -21.5l-21.5 21.5M1983.6 258.3l21.5 21.5m0 -21.5l-21.5 21.5M1983.7 258.9l21.5 21.5m0 -21.5l-21.5 21.5M1983.6 259.5l21.5 21.5m0 -21.5l-21.5 21.5M1983.8 260.2l21.5 21.5m0 -21.5l-21.5 21.5M1984 260.8l21.5 21.5m0 -21.5l-21.5 21.5M1984.5 261.4l21.5 21.5m0 -21.5l-21.5 21.5M1983.2 261.9l21.5 21.5m0 -21.5l-21.5 21.5M1983.9 262.4l21.5 21.5m0 -21.5l-21.5 21.5M1983.2 263l21.5 21.5m0 -21.5l-21.5 21.5M1983.3 263.5l21.5 21.5m0 -21.5l-21.5 21.5M1984.3 264.1l21.5 21.5m0 -21.5l-21.5 21.5M1984 264.6l21.5 21.5m0 -21.5l-21.5 21.5M1984.4 265.2l21.5 21.5m0 -21.5l-21.5 21.5M1983.8 265.8l21.5 21.5m0 -21.5l-21.5 21.5M1983.2 266.4l21.5 21.5m0 -21.5l-21.5 21.5M1983.7 267.1l21.5 21.5m0 -21.5l-21.5 21.5M1984 267.6l21.5 21.5m0 -21.5l-21.5 21.5M1984.5 268.3l21.5 21.5m0 -21.5l-21.5 21.5M1984.5 268.9l21.5 21.5m0 -21.5l-21.5 21.5M1983.8 269.5l21.5 21.5m0 -21.5l-21.5 21.5M1983.7 270.1l21.5 21.5m0 -21.5l-21.5 21.5M1983.3 270.8l21.5 21.5m0 -21.5l-21.5 21.5M1984.1 271.4l21.5 21.5m0 -21.5l-21.5 21.5M1983.4 272l21.5 21.5m0 -21.5l-21.5 21.5M1983.4 272.7l21.5 21.5m0 -21.5l-21.5 21.5M1983.2 273.2l21.5 21.5m0 -21.5l-21.5 21.5M1983.2 273.9l21.5 21.5m0 -21.5l-21.5 21.5M1984.1 274.6l21.5 21.5m0 -21.5l-21.5 21.5M1983.3 275.2l21.5 21.5m0 -21.5l-21.5 21.5M1984.5 276l21.5 21.5m0 -21.5l-21.5 21.5M1983.3 276.8l21.5 21.5m0 -21.5l-21.5 21.5M1984.4 277.8l21.5 21.5m0 -21.5l-21.5 21.5M1983.3 278.6l21.5 21.5m0 -21.5l-21.5 21.5M1983.2 279.7l21.5 21.5m0 -21.5l-21.5 21.5M1984.2 280.7l21.5 21.5m0 -21.5l-21.5 21.5M1983.5 281.7l21.5 21.5m0 -21.5l-21.5 21.5M1984.2 282.9l21.5 21.5m0 -21.5l-21.5 21.5M1983.4 283.8l21.5 21.5m0 -21.5l-21.5 21.5M1983.2 285l21.5 21.5m0 -21.5l-21.5 21.5M1984.2 286.3l21.5 21.5m0 -21.5l-21.5 21.5M1984.1 287.5l21.5 21.5m0 -21.5l-21.5 21.5M1984.3 289l21.5 21.5m0 -21.5l-21.5 21.5M1984.2 290.3l21.5 21.5m0 -21.5l-21.5 21.5M1983.2 291.8l21.5 21.5m0 -21.5l-21.5 21.5M1984 293.3l21.5 21.5m0 -21.5l-21.5 21.5M1984.1 295.1l21.5 21.5m0 -21.5l-21.5 21.5M1983.7 296.6l21.5 21.5m0 -21.5l-21.5 21.5M1984.4 298.3l21.5 21.5m0 -21.5l-21.5 21.5M1983.4 300.1l21.5 21.5m0 -21.5l-21.5 21.5M1984.4 302l21.5 21.5m0 -21.5l-21.5 21.5M1984 304.3l21.5 21.5m0 -21.5l-21.5 21.5M1983 306.3l21.5 21.5m0 -21.5l-21.5 21.5M1983 308.8l21.5 21.5m0 -21.5l-21.5 21.5M1983.9 311l21.5 21.5m0 -21.5l-21.5 21.5M1984.1 313.4l21.5 21.5m0 -21.5l-21.5 21.5M1983.1 315.7l21.5 21.5m0 -21.5l-21.5 21.5M1983.4 318.4l21.5 21.5m0 -21.5l-21.5 21.5M1983.9 321.7l21.5 21.5m0 -21.5l-21.5 21.5M1983.1 324.8l21.5 21.5m0 -21.5l-21.5 21.5M1984.1 328.3l21.5 21.5m0 -21.5l-21.5 21.5M1983.5 331.3l21.5 21.5m0 -21.5l-21.5 21.5M1982.9 334.4l21.5 21.5m0 -21.5l-21.5 21.5M1983.3 337.7l21.5 21.5m0 -21.5l-21.5 21.5M1983.6 341.5l21.5 21.5m0 -21.5l-21.5 21.5M1983.4 345.6l21.5 21.5m0 -21.5l-21.5 21.5M1983.7 350.1l21.5 21.5m0 -21.5l-21.5 21.5M1982.9 353.6l21.5 21.5m0 -21.5l-21.5 21.5M1983.8 358.4l21.5 21.5m0 -21.5l-21.5 21.5M1983.1 363.8l21.5 21.5m0 -21.5l-21.5 21.5M1983.5 368.8l21.5 21.5m0 -21.5l-21.5 21.5M1983.4 373l21.5 21.5m0 -21.5l-21.5 21.5M1983.1 377.9l21.5 21.5m0 -21.5l-21.5 21.5M1983 382.4l21.5 21.5m0 -21.5l-21.5 21.5M1983.5 387.5l21.5 21.5m0 -21.5l-21.5 21.5M1983.7 394.5l21.5 21.5m0 -21.5l-21.5 21.5M1983.4 401.1l21.5 21.5m0 -21.5l-21.5 21.5M1983.1 408.2l21.5 21.5m0 -21.5l-21.5 21.5M1982.6 416l21.5 21.5m0 -21.5l-21.5 21.5M1982.3 424.6l21.5 21.5m0 -21.5l-21.5 21.5M1983.5 432.7l21.5 21.5m0 -21.5l-21.5 21.5M1983 441.3l21.5 21.5m0 -21.5l-21.5 21.5M1983.2 450.3l21.5 21.5m0 -21.5l-21.5 21.5M1982.4 459.9l21.5 21.5m0 -21.5l-21.5 21.5M1982.7 469.7l21.5 21.5m0 -21.5l-21.5 21.5M1982.5 484.1l21.5 21.5m0 -21.5l-21.5 21.5" fill="none" stroke="#00f" stroke-width="1.75"/>
<g stroke="#000" stroke-width="6.2" fill="none">
<path d="M378 37.4V1635"/>
<path d="M362.3 1620.5H2334.6"/>
<path d="M346.3 1488.8H378"/>
<path d="M362.3 1357.2H378"/>
<path d="M346.3 1225.5H378"/>
<path d="M362.3 1093.8H378"/>
<path d="M346.3 962.2H378"/>
<path d="M362.3 830.5H378"/>
<path d="M346.3 698.8H378"/>
<path d="M362.3 567.2H378"/>
<path d="M346.3 435.5H378"/>
<path d="M362.3 303.8H378"/>
<path d="M346.3 172.2H378"/>
<path d="M362.3 40.5H378"/>
<path d="M528.3 1620.5V1650"/>
<path d="M678.5 1620.5V1635"/>
<path d="M828.8 1620.5V1650"/>
<path d="M979.1 1620.5V1635"/>
<path d="M1129.3 1620.5V1650"/>
<path d="M1279.6 1620.5V1635"/>
<path d="M1429.9 1620.5V1650"/>
<path d="M1580.2 1620.5V1635"/>
<path d="M1730.4 1620.5V1650"/>
<path d="M1880.7 1620.5V1635"/>
<path d="M2031 1620.5V1650"/>
<path d="M2181.2 1620.5V1635"/>
<path d="M2331.5 1620.5V1650"/>
</g>
<g font-size="68">
<text class="c" x="326.3" y="1507.6" text-anchor="end" font-size="68">0</text>
<text class="c" x="326" y="1242.8" text-anchor="end" font-size="67.3" letter-spacing="-0.6">100,000</text>
<text class="c" x="328" y="982.8" text-anchor="end" font-size="67.3" letter-spacing="-0.6">200,000</text>
<text class="c" x="334.7" y="720.9" text-anchor="end" font-size="67.3" letter-spacing="-0.6">300,000</text>
<text class="c" x="334.1" y="455.9" text-anchor="end" font-size="67.3" letter-spacing="-0.6">400,000</text>
<text class="c" x="334.9" y="195.2" text-anchor="end" font-size="67.3" letter-spacing="-0.6">500,000</text>
<text class="c" x="528.3" y="1723.2" text-anchor="middle">0</text>
<text class="c" x="828.8" y="1723.2" text-anchor="middle">2</text>
<text class="c" x="1129.3" y="1723.2" text-anchor="middle">4</text>
<text class="c" x="1429.9" y="1723.2" text-anchor="middle">6</text>
<text class="c" x="1730.4" y="1723.2" text-anchor="middle">8</text>
<text class="c" x="2031" y="1723.2" text-anchor="middle">10</text>
<text class="c" x="2331.5" y="1723.2" text-anchor="middle">12</text>
</g>
<text x="1184.9" y="1848.3" font-size="74" class="a">Strain</text>
<text x="1384.2" y="1852.2" font-size="82" class="b">(%)</text>
<text transform="translate(79.2 1031.3) rotate(-90)" font-size="74" class="a">Stress</text>
<text transform="translate(89.5 824.8) rotate(-90)" font-size="82" class="b">(kPa)</text>
<g fill="#fff" stroke="#000" stroke-width="2.4">
<rect x="1180.5" y="840.2" width="681" height="139.2"/>
<rect x="1179.1" y="699.2" width="778.6" height="139.6"/>
</g>
<path d="M1290.3 753.3l32.4 32.4m0 -32.4l-32.4 32.4" fill="none" stroke="#00f" stroke-width="2.4"/>
<circle cx="1307.5" cy="910.2" r="15" fill="#fff" stroke="#f00" stroke-width="2.4"/>
<text x="1562.8" y="793.1" font-size="65" class="d">CGHAZ</text>
<text x="1601" y="938.9" font-size="65" class="d">BM</text>
</svg></body></html>
